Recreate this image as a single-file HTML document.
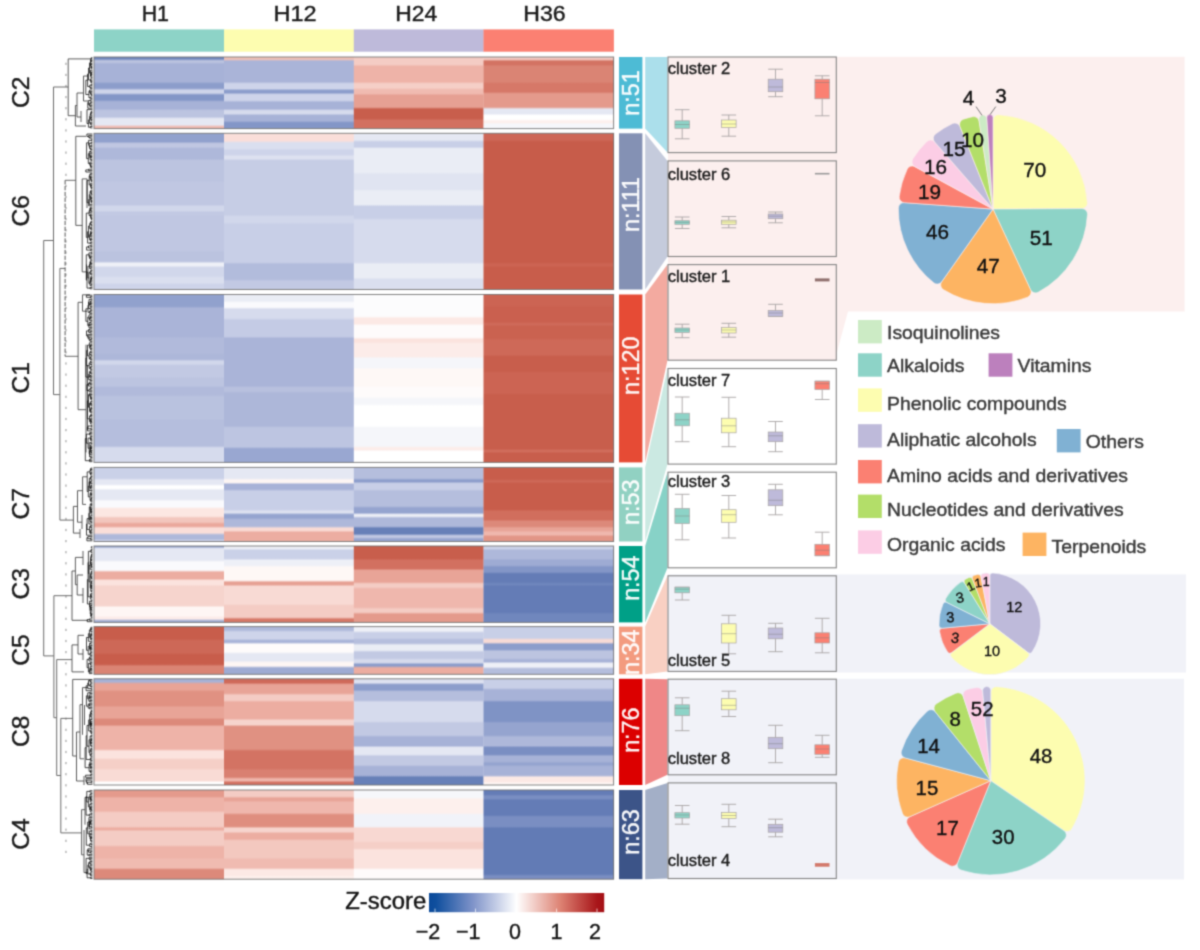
<!DOCTYPE html>
<html lang="en"><head><meta charset="utf-8"><title>Clustered heat map</title>
<style>
html,body{margin:0;padding:0;background:#fff;}
body{width:1200px;height:950px;overflow:hidden;}
svg{display:block;}
</style></head><body>
<svg width="1200" height="950" viewBox="0 0 1200 950" font-family='"Liberation Sans", Arial, Helvetica, sans-serif'>
<defs><linearGradient id="g1" x1="0" y1="0" x2="0" y2="1"><stop offset="0.0000" stop-color="#7087bd"/><stop offset="0.0240" stop-color="#7087bd"/><stop offset="0.0547" stop-color="#bcc4e0"/><stop offset="0.0689" stop-color="#bcc4e0"/><stop offset="0.0996" stop-color="#a7b2d7"/><stop offset="0.3442" stop-color="#a7b2d7"/><stop offset="0.3749" stop-color="#8c9dcb"/><stop offset="0.4341" stop-color="#8c9dcb"/><stop offset="0.4648" stop-color="#ced4ea"/><stop offset="0.5015" stop-color="#ced4ea"/><stop offset="0.5322" stop-color="#8396c7"/><stop offset="0.5970" stop-color="#8396c7"/><stop offset="0.6277" stop-color="#a7b2d7"/><stop offset="0.7206" stop-color="#a7b2d7"/><stop offset="0.7513" stop-color="#bcc4e0"/><stop offset="0.8330" stop-color="#bcc4e0"/><stop offset="0.8637" stop-color="#e5e8f3"/><stop offset="0.9453" stop-color="#e5e8f3"/><stop offset="0.9760" stop-color="#efb7ad"/><stop offset="1.0000" stop-color="#efb7ad"/></linearGradient><linearGradient id="g2" x1="0" y1="0" x2="0" y2="1"><stop offset="0.0000" stop-color="#f1c2b8"/><stop offset="0.0296" stop-color="#f1c2b8"/><stop offset="0.0603" stop-color="#aab4d8"/><stop offset="0.3442" stop-color="#aab4d8"/><stop offset="0.3749" stop-color="#ced4ea"/><stop offset="0.4397" stop-color="#ced4ea"/><stop offset="0.4704" stop-color="#8c9dcb"/><stop offset="0.4959" stop-color="#8c9dcb"/><stop offset="0.5266" stop-color="#ced4ea"/><stop offset="0.6026" stop-color="#ced4ea"/><stop offset="0.6333" stop-color="#a7b2d7"/><stop offset="0.7206" stop-color="#a7b2d7"/><stop offset="0.7513" stop-color="#d6dbed"/><stop offset="0.7880" stop-color="#d6dbed"/><stop offset="0.8187" stop-color="#a7b2d7"/><stop offset="0.8891" stop-color="#a7b2d7"/><stop offset="0.9199" stop-color="#8396c7"/><stop offset="1.0000" stop-color="#8396c7"/></linearGradient><linearGradient id="g3" x1="0" y1="0" x2="0" y2="1"><stop offset="0.0000" stop-color="#f4ccc4"/><stop offset="0.1026" stop-color="#f4ccc4"/><stop offset="0.1333" stop-color="#eeb3a8"/><stop offset="0.3442" stop-color="#eeb3a8"/><stop offset="0.3749" stop-color="#f5cfc7"/><stop offset="0.4285" stop-color="#f5cfc7"/><stop offset="0.4592" stop-color="#f0bbb1"/><stop offset="0.5071" stop-color="#f0bbb1"/><stop offset="0.5378" stop-color="#e6a093"/><stop offset="0.6981" stop-color="#e6a093"/><stop offset="0.7288" stop-color="#c85e4c"/><stop offset="0.8554" stop-color="#c85e4c"/><stop offset="0.8861" stop-color="#d27060"/><stop offset="1.0000" stop-color="#d27060"/></linearGradient><linearGradient id="g4" x1="0" y1="0" x2="0" y2="1"><stop offset="0.0000" stop-color="#f4ccc4"/><stop offset="0.0296" stop-color="#f4ccc4"/><stop offset="0.0603" stop-color="#d37363"/><stop offset="0.1026" stop-color="#d37363"/><stop offset="0.1333" stop-color="#da8474"/><stop offset="0.3442" stop-color="#da8474"/><stop offset="0.3749" stop-color="#d67868"/><stop offset="0.4846" stop-color="#d67868"/><stop offset="0.5154" stop-color="#e49a8c"/><stop offset="0.6981" stop-color="#e49a8c"/><stop offset="0.7288" stop-color="#e5e8f3"/><stop offset="0.7880" stop-color="#e5e8f3"/><stop offset="0.8187" stop-color="#ffffff"/><stop offset="0.8667" stop-color="#ffffff"/><stop offset="0.8974" stop-color="#fdf0ed"/><stop offset="0.9116" stop-color="#fdf0ed"/><stop offset="0.9423" stop-color="#f6f7fb"/><stop offset="1.0000" stop-color="#f6f7fb"/></linearGradient><clipPath id="cn0"><rect x="619" y="57.0" width="23.4" height="71.6"/></clipPath><linearGradient id="g5" x1="0" y1="0" x2="0" y2="1"><stop offset="0.0000" stop-color="#91a1cd"/><stop offset="0.0527" stop-color="#91a1cd"/><stop offset="0.0668" stop-color="#c0c7e2"/><stop offset="0.0853" stop-color="#c0c7e2"/><stop offset="0.0994" stop-color="#aeb8da"/><stop offset="0.1614" stop-color="#aeb8da"/><stop offset="0.1755" stop-color="#bcc4e0"/><stop offset="0.3027" stop-color="#bcc4e0"/><stop offset="0.3168" stop-color="#c0c7e2"/><stop offset="0.4549" stop-color="#c0c7e2"/><stop offset="0.4690" stop-color="#d1d7eb"/><stop offset="0.4930" stop-color="#d1d7eb"/><stop offset="0.5070" stop-color="#c2c9e3"/><stop offset="0.5201" stop-color="#c2c9e3"/><stop offset="0.5342" stop-color="#c0c7e2"/><stop offset="0.7484" stop-color="#c0c7e2"/><stop offset="0.7625" stop-color="#bbc3df"/><stop offset="0.8190" stop-color="#bbc3df"/><stop offset="0.8331" stop-color="#eef0f7"/><stop offset="0.8462" stop-color="#eef0f7"/><stop offset="0.8603" stop-color="#d1d7eb"/><stop offset="0.9114" stop-color="#d1d7eb"/><stop offset="0.9255" stop-color="#dadfef"/><stop offset="0.9549" stop-color="#dadfef"/><stop offset="0.9690" stop-color="#ced4ea"/><stop offset="1.0000" stop-color="#ced4ea"/></linearGradient><linearGradient id="g6" x1="0" y1="0" x2="0" y2="1"><stop offset="0.0000" stop-color="#faded9"/><stop offset="0.0473" stop-color="#faded9"/><stop offset="0.0614" stop-color="#dadfef"/><stop offset="0.0962" stop-color="#dadfef"/><stop offset="0.1103" stop-color="#ced4ea"/><stop offset="0.1343" stop-color="#ced4ea"/><stop offset="0.1483" stop-color="#dde1f0"/><stop offset="0.1614" stop-color="#dde1f0"/><stop offset="0.1755" stop-color="#c6cde5"/><stop offset="0.5201" stop-color="#c6cde5"/><stop offset="0.5342" stop-color="#d1d7eb"/><stop offset="0.5690" stop-color="#d1d7eb"/><stop offset="0.5831" stop-color="#c8cfe7"/><stop offset="0.8245" stop-color="#c8cfe7"/><stop offset="0.8386" stop-color="#b2bcdc"/><stop offset="0.9332" stop-color="#b2bcdc"/><stop offset="0.9473" stop-color="#c2c9e3"/><stop offset="1.0000" stop-color="#c2c9e3"/></linearGradient><linearGradient id="g7" x1="0" y1="0" x2="0" y2="1"><stop offset="0.0000" stop-color="#e5e8f3"/><stop offset="0.0419" stop-color="#e5e8f3"/><stop offset="0.0560" stop-color="#c8cfe7"/><stop offset="0.0853" stop-color="#c8cfe7"/><stop offset="0.0994" stop-color="#eaedf5"/><stop offset="0.2484" stop-color="#eaedf5"/><stop offset="0.2625" stop-color="#e0e4f1"/><stop offset="0.3571" stop-color="#e0e4f1"/><stop offset="0.3712" stop-color="#eaedf5"/><stop offset="0.4549" stop-color="#eaedf5"/><stop offset="0.4690" stop-color="#c8cfe7"/><stop offset="0.5419" stop-color="#c8cfe7"/><stop offset="0.5560" stop-color="#d6dbed"/><stop offset="0.8245" stop-color="#d6dbed"/><stop offset="0.8386" stop-color="#eaedf5"/><stop offset="0.9223" stop-color="#eaedf5"/><stop offset="0.9364" stop-color="#dadfef"/><stop offset="1.0000" stop-color="#dadfef"/></linearGradient><linearGradient id="g8" x1="0" y1="0" x2="0" y2="1"><stop offset="0.0000" stop-color="#cd6656"/><stop offset="0.0419" stop-color="#cd6656"/><stop offset="0.0560" stop-color="#c75c4a"/><stop offset="0.8245" stop-color="#c75c4a"/><stop offset="0.8386" stop-color="#cc6453"/><stop offset="0.8462" stop-color="#cc6453"/><stop offset="0.8603" stop-color="#c85d4b"/><stop offset="1.0000" stop-color="#c85d4b"/></linearGradient><clipPath id="cn1"><rect x="619" y="133.3" width="23.4" height="156.2"/></clipPath><linearGradient id="g9" x1="0" y1="0" x2="0" y2="1"><stop offset="0.0000" stop-color="#91a1cd"/><stop offset="0.0695" stop-color="#91a1cd"/><stop offset="0.0826" stop-color="#aab4d8"/><stop offset="0.2489" stop-color="#aab4d8"/><stop offset="0.2620" stop-color="#b1badb"/><stop offset="0.3467" stop-color="#b1badb"/><stop offset="0.3598" stop-color="#adb7d9"/><stop offset="0.3848" stop-color="#adb7d9"/><stop offset="0.3979" stop-color="#d1d7eb"/><stop offset="0.4119" stop-color="#d1d7eb"/><stop offset="0.4250" stop-color="#c2c9e3"/><stop offset="0.4880" stop-color="#c2c9e3"/><stop offset="0.5011" stop-color="#bcc4e0"/><stop offset="0.5424" stop-color="#bcc4e0"/><stop offset="0.5555" stop-color="#b1badb"/><stop offset="0.5967" stop-color="#b1badb"/><stop offset="0.6098" stop-color="#b9c2df"/><stop offset="0.7380" stop-color="#b9c2df"/><stop offset="0.7511" stop-color="#b5bedd"/><stop offset="0.9011" stop-color="#b5bedd"/><stop offset="0.9142" stop-color="#d6dbed"/><stop offset="1.0000" stop-color="#d6dbed"/></linearGradient><linearGradient id="g10" x1="0" y1="0" x2="0" y2="1"><stop offset="0.0000" stop-color="#eaedf5"/><stop offset="0.0369" stop-color="#eaedf5"/><stop offset="0.0500" stop-color="#fafafd"/><stop offset="0.0750" stop-color="#fafafd"/><stop offset="0.0881" stop-color="#d6dbed"/><stop offset="0.1402" stop-color="#d6dbed"/><stop offset="0.1533" stop-color="#c4cbe5"/><stop offset="0.2489" stop-color="#c4cbe5"/><stop offset="0.2620" stop-color="#aab4d8"/><stop offset="0.5424" stop-color="#aab4d8"/><stop offset="0.5555" stop-color="#b8c0de"/><stop offset="0.5750" stop-color="#b8c0de"/><stop offset="0.5881" stop-color="#adb7d9"/><stop offset="0.7815" stop-color="#adb7d9"/><stop offset="0.7946" stop-color="#bdc5e1"/><stop offset="0.9065" stop-color="#bdc5e1"/><stop offset="0.9196" stop-color="#99a7d1"/><stop offset="1.0000" stop-color="#99a7d1"/></linearGradient><linearGradient id="g11" x1="0" y1="0" x2="0" y2="1"><stop offset="0.0000" stop-color="#fcfcfd"/><stop offset="0.1293" stop-color="#fcfcfd"/><stop offset="0.1424" stop-color="#fce9e5"/><stop offset="0.1728" stop-color="#fce9e5"/><stop offset="0.1859" stop-color="#fefbfb"/><stop offset="0.2543" stop-color="#fefbfb"/><stop offset="0.2674" stop-color="#fbe3de"/><stop offset="0.2815" stop-color="#fbe3de"/><stop offset="0.2946" stop-color="#fcece9"/><stop offset="0.3684" stop-color="#fcece9"/><stop offset="0.3816" stop-color="#f5f6fa"/><stop offset="0.4337" stop-color="#f5f6fa"/><stop offset="0.4468" stop-color="#fef8f6"/><stop offset="0.5424" stop-color="#fef8f6"/><stop offset="0.5555" stop-color="#fefbfb"/><stop offset="0.6076" stop-color="#fefbfb"/><stop offset="0.6207" stop-color="#f5f6fa"/><stop offset="0.6511" stop-color="#f5f6fa"/><stop offset="0.6642" stop-color="#ffffff"/><stop offset="0.7815" stop-color="#ffffff"/><stop offset="0.7946" stop-color="#f5f6fa"/><stop offset="0.9011" stop-color="#f5f6fa"/><stop offset="0.9142" stop-color="#fcece9"/><stop offset="0.9228" stop-color="#fcece9"/><stop offset="0.9359" stop-color="#ffffff"/><stop offset="1.0000" stop-color="#ffffff"/></linearGradient><linearGradient id="g12" x1="0" y1="0" x2="0" y2="1"><stop offset="0.0000" stop-color="#cc6453"/><stop offset="0.0641" stop-color="#cc6453"/><stop offset="0.0772" stop-color="#ca604f"/><stop offset="0.1619" stop-color="#ca604f"/><stop offset="0.1750" stop-color="#cf6a5a"/><stop offset="0.1782" stop-color="#cf6a5a"/><stop offset="0.1913" stop-color="#ca6250"/><stop offset="0.2598" stop-color="#ca6250"/><stop offset="0.2729" stop-color="#ce6958"/><stop offset="0.3576" stop-color="#ce6958"/><stop offset="0.3707" stop-color="#c85e4c"/><stop offset="0.4554" stop-color="#c85e4c"/><stop offset="0.4685" stop-color="#cc6453"/><stop offset="0.5858" stop-color="#cc6453"/><stop offset="0.5989" stop-color="#c85e4c"/><stop offset="0.9174" stop-color="#c85e4c"/><stop offset="0.9305" stop-color="#d16e5d"/><stop offset="0.9337" stop-color="#d16e5d"/><stop offset="0.9468" stop-color="#c85e4c"/><stop offset="1.0000" stop-color="#c85e4c"/></linearGradient><clipPath id="cn2"><rect x="619" y="294.5" width="23.4" height="167.9"/></clipPath><linearGradient id="g13" x1="0" y1="0" x2="0" y2="1"><stop offset="0.0000" stop-color="#cad1e8"/><stop offset="0.1442" stop-color="#cad1e8"/><stop offset="0.1739" stop-color="#e5e8f3"/><stop offset="0.2238" stop-color="#e5e8f3"/><stop offset="0.2535" stop-color="#ffffff"/><stop offset="0.2806" stop-color="#ffffff"/><stop offset="0.3103" stop-color="#e5e8f3"/><stop offset="0.4283" stop-color="#e5e8f3"/><stop offset="0.4580" stop-color="#fafafd"/><stop offset="0.5306" stop-color="#fafafd"/><stop offset="0.5603" stop-color="#fce7e2"/><stop offset="0.6556" stop-color="#fce7e2"/><stop offset="0.6853" stop-color="#f2c6bd"/><stop offset="0.7352" stop-color="#f2c6bd"/><stop offset="0.7648" stop-color="#eaa79b"/><stop offset="0.7920" stop-color="#eaa79b"/><stop offset="0.8217" stop-color="#faded9"/><stop offset="0.8829" stop-color="#faded9"/><stop offset="0.9126" stop-color="#aeb8da"/><stop offset="0.9624" stop-color="#aeb8da"/><stop offset="0.9921" stop-color="#ced4ea"/><stop offset="1.0000" stop-color="#ced4ea"/></linearGradient><linearGradient id="g14" x1="0" y1="0" x2="0" y2="1"><stop offset="0.0000" stop-color="#e5e8f3"/><stop offset="0.1442" stop-color="#e5e8f3"/><stop offset="0.1739" stop-color="#fef6f4"/><stop offset="0.2011" stop-color="#fef6f4"/><stop offset="0.2308" stop-color="#a7b2d7"/><stop offset="0.2920" stop-color="#a7b2d7"/><stop offset="0.3217" stop-color="#c8cfe7"/><stop offset="0.5647" stop-color="#c8cfe7"/><stop offset="0.5944" stop-color="#dde1f0"/><stop offset="0.6102" stop-color="#dde1f0"/><stop offset="0.6398" stop-color="#95a4cf"/><stop offset="0.6783" stop-color="#95a4cf"/><stop offset="0.7080" stop-color="#aeb8da"/><stop offset="0.7920" stop-color="#aeb8da"/><stop offset="0.8217" stop-color="#f9dbd5"/><stop offset="0.8488" stop-color="#f9dbd5"/><stop offset="0.8785" stop-color="#ecada1"/><stop offset="1.0000" stop-color="#ecada1"/></linearGradient><linearGradient id="g15" x1="0" y1="0" x2="0" y2="1"><stop offset="0.0000" stop-color="#b5bedd"/><stop offset="0.1442" stop-color="#b5bedd"/><stop offset="0.1739" stop-color="#8c9dcb"/><stop offset="0.1897" stop-color="#8c9dcb"/><stop offset="0.2194" stop-color="#c8cfe7"/><stop offset="0.2920" stop-color="#c8cfe7"/><stop offset="0.3217" stop-color="#b5bedd"/><stop offset="0.5192" stop-color="#b5bedd"/><stop offset="0.5489" stop-color="#95a4cf"/><stop offset="0.6102" stop-color="#95a4cf"/><stop offset="0.6398" stop-color="#eef0f7"/><stop offset="0.6556" stop-color="#eef0f7"/><stop offset="0.6853" stop-color="#aeb8da"/><stop offset="0.7920" stop-color="#aeb8da"/><stop offset="0.8217" stop-color="#6780b8"/><stop offset="0.8942" stop-color="#6780b8"/><stop offset="0.9239" stop-color="#c2c9e3"/><stop offset="0.9397" stop-color="#c2c9e3"/><stop offset="0.9694" stop-color="#95a4cf"/><stop offset="1.0000" stop-color="#95a4cf"/></linearGradient><linearGradient id="g16" x1="0" y1="0" x2="0" y2="1"><stop offset="0.0000" stop-color="#c85d4b"/><stop offset="0.1556" stop-color="#c85d4b"/><stop offset="0.1853" stop-color="#ce6958"/><stop offset="0.1897" stop-color="#ce6958"/><stop offset="0.2194" stop-color="#c85d4b"/><stop offset="0.5647" stop-color="#c85d4b"/><stop offset="0.5944" stop-color="#d16e5d"/><stop offset="0.7011" stop-color="#d16e5d"/><stop offset="0.7308" stop-color="#dc897a"/><stop offset="0.7920" stop-color="#dc897a"/><stop offset="0.8217" stop-color="#e8a497"/><stop offset="0.8488" stop-color="#e8a497"/><stop offset="0.8785" stop-color="#efb7ad"/><stop offset="0.9056" stop-color="#efb7ad"/><stop offset="0.9353" stop-color="#e29586"/><stop offset="1.0000" stop-color="#e29586"/></linearGradient><clipPath id="cn3"><rect x="619" y="467.4" width="23.4" height="74.1"/></clipPath><linearGradient id="g17" x1="0" y1="0" x2="0" y2="1"><stop offset="0.0000" stop-color="#95a4cf"/><stop offset="0.0076" stop-color="#95a4cf"/><stop offset="0.0364" stop-color="#e5e8f3"/><stop offset="0.1834" stop-color="#e5e8f3"/><stop offset="0.2122" stop-color="#fafafd"/><stop offset="0.3153" stop-color="#fafafd"/><stop offset="0.3441" stop-color="#ecada1"/><stop offset="0.4252" stop-color="#ecada1"/><stop offset="0.4540" stop-color="#fbe3de"/><stop offset="0.5021" stop-color="#fbe3de"/><stop offset="0.5309" stop-color="#f6d4cd"/><stop offset="0.7768" stop-color="#f6d4cd"/><stop offset="0.8056" stop-color="#fef6f4"/><stop offset="0.9087" stop-color="#fef6f4"/><stop offset="0.9375" stop-color="#fcece9"/><stop offset="0.9526" stop-color="#fcece9"/><stop offset="0.9814" stop-color="#9eabd3"/><stop offset="1.0000" stop-color="#9eabd3"/></linearGradient><linearGradient id="g18" x1="0" y1="0" x2="0" y2="1"><stop offset="0.0000" stop-color="#eef0f7"/><stop offset="0.0296" stop-color="#eef0f7"/><stop offset="0.0584" stop-color="#cad1e8"/><stop offset="0.1614" stop-color="#cad1e8"/><stop offset="0.1902" stop-color="#eef0f7"/><stop offset="0.2493" stop-color="#eef0f7"/><stop offset="0.2781" stop-color="#fef8f6"/><stop offset="0.4471" stop-color="#fef8f6"/><stop offset="0.4759" stop-color="#e6a093"/><stop offset="0.5021" stop-color="#e6a093"/><stop offset="0.5309" stop-color="#f8dad4"/><stop offset="0.7548" stop-color="#f8dad4"/><stop offset="0.7836" stop-color="#f4ccc4"/><stop offset="0.9307" stop-color="#f4ccc4"/><stop offset="0.9595" stop-color="#d67868"/><stop offset="1.0000" stop-color="#d67868"/></linearGradient><linearGradient id="g19" x1="0" y1="0" x2="0" y2="1"><stop offset="0.0000" stop-color="#c85e4c"/><stop offset="0.1614" stop-color="#c85e4c"/><stop offset="0.1902" stop-color="#d27060"/><stop offset="0.2933" stop-color="#d27060"/><stop offset="0.3221" stop-color="#e8a497"/><stop offset="0.4691" stop-color="#e8a497"/><stop offset="0.4979" stop-color="#f4ccc4"/><stop offset="0.5351" stop-color="#f4ccc4"/><stop offset="0.5638" stop-color="#efb7ad"/><stop offset="0.7988" stop-color="#efb7ad"/><stop offset="0.8276" stop-color="#f4ccc4"/><stop offset="0.8647" stop-color="#f4ccc4"/><stop offset="0.8935" stop-color="#e49a8c"/><stop offset="1.0000" stop-color="#e49a8c"/></linearGradient><linearGradient id="g20" x1="0" y1="0" x2="0" y2="1"><stop offset="0.0000" stop-color="#ced4ea"/><stop offset="0.0296" stop-color="#ced4ea"/><stop offset="0.0584" stop-color="#aeb8da"/><stop offset="0.1614" stop-color="#aeb8da"/><stop offset="0.1902" stop-color="#9eabd3"/><stop offset="0.2493" stop-color="#9eabd3"/><stop offset="0.2781" stop-color="#8396c7"/><stop offset="0.3373" stop-color="#8396c7"/><stop offset="0.3660" stop-color="#647cb6"/><stop offset="0.4691" stop-color="#647cb6"/><stop offset="0.4979" stop-color="#7087bd"/><stop offset="0.5021" stop-color="#7087bd"/><stop offset="0.5309" stop-color="#647cb6"/><stop offset="0.8647" stop-color="#647cb6"/><stop offset="0.8935" stop-color="#7087bd"/><stop offset="1.0000" stop-color="#7087bd"/></linearGradient><clipPath id="cn4"><rect x="619" y="546.0" width="23.4" height="76.4"/></clipPath><linearGradient id="g21" x1="0" y1="0" x2="0" y2="1"><stop offset="0.0000" stop-color="#c85d4b"/><stop offset="0.2527" stop-color="#c85d4b"/><stop offset="0.2988" stop-color="#cd6857"/><stop offset="0.5468" stop-color="#cd6857"/><stop offset="0.5929" stop-color="#c85d4b"/><stop offset="0.7858" stop-color="#c85d4b"/><stop offset="0.8319" stop-color="#da8474"/><stop offset="1.0000" stop-color="#da8474"/></linearGradient><linearGradient id="g22" x1="0" y1="0" x2="0" y2="1"><stop offset="0.0000" stop-color="#aeb8da"/><stop offset="0.0689" stop-color="#aeb8da"/><stop offset="0.1150" stop-color="#ced4ea"/><stop offset="0.2527" stop-color="#ced4ea"/><stop offset="0.2988" stop-color="#a7b2d7"/><stop offset="0.3262" stop-color="#a7b2d7"/><stop offset="0.3723" stop-color="#fefbfb"/><stop offset="0.5284" stop-color="#fefbfb"/><stop offset="0.5745" stop-color="#e5e8f3"/><stop offset="0.7122" stop-color="#e5e8f3"/><stop offset="0.7584" stop-color="#fef6f4"/><stop offset="0.8225" stop-color="#fef6f4"/><stop offset="0.8686" stop-color="#9eabd3"/><stop offset="1.0000" stop-color="#9eabd3"/></linearGradient><linearGradient id="g23" x1="0" y1="0" x2="0" y2="1"><stop offset="0.0000" stop-color="#eef0f7"/><stop offset="0.0872" stop-color="#eef0f7"/><stop offset="0.1334" stop-color="#c8cfe7"/><stop offset="0.2343" stop-color="#c8cfe7"/><stop offset="0.2804" stop-color="#b5bedd"/><stop offset="0.3446" stop-color="#b5bedd"/><stop offset="0.3907" stop-color="#eaedf5"/><stop offset="0.4916" stop-color="#eaedf5"/><stop offset="0.5378" stop-color="#c2c9e3"/><stop offset="0.6571" stop-color="#c2c9e3"/><stop offset="0.7032" stop-color="#d6dbed"/><stop offset="0.7490" stop-color="#d6dbed"/><stop offset="0.7951" stop-color="#8c9dcb"/><stop offset="0.8225" stop-color="#8c9dcb"/><stop offset="0.8686" stop-color="#ecada1"/><stop offset="1.0000" stop-color="#ecada1"/></linearGradient><linearGradient id="g24" x1="0" y1="0" x2="0" y2="1"><stop offset="0.0000" stop-color="#c8cfe7"/><stop offset="0.2343" stop-color="#c8cfe7"/><stop offset="0.2804" stop-color="#f9dbd5"/><stop offset="0.3262" stop-color="#f9dbd5"/><stop offset="0.3723" stop-color="#8c9dcb"/><stop offset="0.4733" stop-color="#8c9dcb"/><stop offset="0.5194" stop-color="#bcc4e0"/><stop offset="0.6571" stop-color="#bcc4e0"/><stop offset="0.7032" stop-color="#a7b2d7"/><stop offset="0.7306" stop-color="#a7b2d7"/><stop offset="0.7767" stop-color="#eef0f7"/><stop offset="0.8409" stop-color="#eef0f7"/><stop offset="0.8870" stop-color="#b5bedd"/><stop offset="1.0000" stop-color="#b5bedd"/></linearGradient><clipPath id="cn5"><rect x="619" y="626.6" width="23.4" height="47.7"/></clipPath><linearGradient id="g25" x1="0" y1="0" x2="0" y2="1"><stop offset="0.0000" stop-color="#a7b2d7"/><stop offset="0.0275" stop-color="#a7b2d7"/><stop offset="0.0482" stop-color="#e8a497"/><stop offset="0.1015" stop-color="#e8a497"/><stop offset="0.1222" stop-color="#e09182"/><stop offset="0.2495" stop-color="#e09182"/><stop offset="0.2702" stop-color="#e8a497"/><stop offset="0.3646" stop-color="#e8a497"/><stop offset="0.3854" stop-color="#dc897a"/><stop offset="0.4304" stop-color="#dc897a"/><stop offset="0.4511" stop-color="#eeb3a8"/><stop offset="0.6607" stop-color="#eeb3a8"/><stop offset="0.6814" stop-color="#fbe3de"/><stop offset="0.7429" stop-color="#fbe3de"/><stop offset="0.7636" stop-color="#f5cfc7"/><stop offset="0.8416" stop-color="#f5cfc7"/><stop offset="0.8623" stop-color="#f9dbd5"/><stop offset="0.9567" stop-color="#f9dbd5"/><stop offset="0.9775" stop-color="#ffffff"/><stop offset="1.0000" stop-color="#ffffff"/></linearGradient><linearGradient id="g26" x1="0" y1="0" x2="0" y2="1"><stop offset="0.0000" stop-color="#cf6a5a"/><stop offset="0.0357" stop-color="#cf6a5a"/><stop offset="0.0564" stop-color="#e8a497"/><stop offset="0.1344" stop-color="#e8a497"/><stop offset="0.1551" stop-color="#f4ccc4"/><stop offset="0.2002" stop-color="#f4ccc4"/><stop offset="0.2209" stop-color="#ecada1"/><stop offset="0.3729" stop-color="#ecada1"/><stop offset="0.3936" stop-color="#f6d4cd"/><stop offset="0.4304" stop-color="#f6d4cd"/><stop offset="0.4511" stop-color="#e09182"/><stop offset="0.6607" stop-color="#e09182"/><stop offset="0.6814" stop-color="#d37363"/><stop offset="0.8416" stop-color="#d37363"/><stop offset="0.8623" stop-color="#d98071"/><stop offset="0.9239" stop-color="#d98071"/><stop offset="0.9446" stop-color="#efb7ad"/><stop offset="0.9567" stop-color="#efb7ad"/><stop offset="0.9775" stop-color="#d27060"/><stop offset="1.0000" stop-color="#d27060"/></linearGradient><linearGradient id="g27" x1="0" y1="0" x2="0" y2="1"><stop offset="0.0000" stop-color="#dde1f0"/><stop offset="0.0357" stop-color="#dde1f0"/><stop offset="0.0564" stop-color="#8c9dcb"/><stop offset="0.1015" stop-color="#8c9dcb"/><stop offset="0.1222" stop-color="#b5bedd"/><stop offset="0.2002" stop-color="#b5bedd"/><stop offset="0.2209" stop-color="#d6dbed"/><stop offset="0.3975" stop-color="#d6dbed"/><stop offset="0.4183" stop-color="#c2c9e3"/><stop offset="0.5291" stop-color="#c2c9e3"/><stop offset="0.5498" stop-color="#a7b2d7"/><stop offset="0.6278" stop-color="#a7b2d7"/><stop offset="0.6485" stop-color="#e5e8f3"/><stop offset="0.7100" stop-color="#e5e8f3"/><stop offset="0.7308" stop-color="#c2c9e3"/><stop offset="0.8087" stop-color="#c2c9e3"/><stop offset="0.8294" stop-color="#a7b2d7"/><stop offset="0.9074" stop-color="#a7b2d7"/><stop offset="0.9281" stop-color="#6780b8"/><stop offset="1.0000" stop-color="#6780b8"/></linearGradient><linearGradient id="g28" x1="0" y1="0" x2="0" y2="1"><stop offset="0.0000" stop-color="#c8cfe7"/><stop offset="0.0850" stop-color="#c8cfe7"/><stop offset="0.1058" stop-color="#a7b2d7"/><stop offset="0.2002" stop-color="#a7b2d7"/><stop offset="0.2209" stop-color="#7f93c5"/><stop offset="0.3975" stop-color="#7f93c5"/><stop offset="0.4183" stop-color="#95a4cf"/><stop offset="0.5291" stop-color="#95a4cf"/><stop offset="0.5498" stop-color="#aeb8da"/><stop offset="0.6278" stop-color="#aeb8da"/><stop offset="0.6485" stop-color="#7a8ec2"/><stop offset="0.7100" stop-color="#7a8ec2"/><stop offset="0.7308" stop-color="#a7b2d7"/><stop offset="0.7758" stop-color="#a7b2d7"/><stop offset="0.7965" stop-color="#95a4cf"/><stop offset="0.8087" stop-color="#95a4cf"/><stop offset="0.8294" stop-color="#a7b2d7"/><stop offset="0.9074" stop-color="#a7b2d7"/><stop offset="0.9281" stop-color="#fce9e5"/><stop offset="0.9650" stop-color="#fce9e5"/><stop offset="0.9857" stop-color="#fef6f4"/><stop offset="1.0000" stop-color="#fef6f4"/></linearGradient><clipPath id="cn6"><rect x="619" y="678.8" width="23.4" height="106.2"/></clipPath><linearGradient id="g29" x1="0" y1="0" x2="0" y2="1"><stop offset="0.0000" stop-color="#e49a8c"/><stop offset="0.0691" stop-color="#e49a8c"/><stop offset="0.0937" stop-color="#eeb3a8"/><stop offset="0.2319" stop-color="#eeb3a8"/><stop offset="0.2565" stop-color="#f4ccc4"/><stop offset="0.4063" stop-color="#f4ccc4"/><stop offset="0.4309" stop-color="#ecada1"/><stop offset="0.4412" stop-color="#ecada1"/><stop offset="0.4658" stop-color="#f4ccc4"/><stop offset="0.6156" stop-color="#f4ccc4"/><stop offset="0.6402" stop-color="#eeb3a8"/><stop offset="0.7551" stop-color="#eeb3a8"/><stop offset="0.7798" stop-color="#f0bbb1"/><stop offset="0.8714" stop-color="#f0bbb1"/><stop offset="0.8961" stop-color="#dc897a"/><stop offset="1.0000" stop-color="#dc897a"/></linearGradient><linearGradient id="g30" x1="0" y1="0" x2="0" y2="1"><stop offset="0.0000" stop-color="#f4ccc4"/><stop offset="0.0691" stop-color="#f4ccc4"/><stop offset="0.0937" stop-color="#e8a497"/><stop offset="0.1156" stop-color="#e8a497"/><stop offset="0.1402" stop-color="#efb7ad"/><stop offset="0.2551" stop-color="#efb7ad"/><stop offset="0.2798" stop-color="#df8e7f"/><stop offset="0.4063" stop-color="#df8e7f"/><stop offset="0.4309" stop-color="#f6d4cd"/><stop offset="0.4644" stop-color="#f6d4cd"/><stop offset="0.4891" stop-color="#ecada1"/><stop offset="0.5458" stop-color="#ecada1"/><stop offset="0.5705" stop-color="#f3c8bf"/><stop offset="0.7551" stop-color="#f3c8bf"/><stop offset="0.7798" stop-color="#f0bbb1"/><stop offset="0.8714" stop-color="#f0bbb1"/><stop offset="0.8961" stop-color="#fce9e5"/><stop offset="0.9528" stop-color="#fce9e5"/><stop offset="0.9774" stop-color="#fdf0ed"/><stop offset="1.0000" stop-color="#fdf0ed"/></linearGradient><linearGradient id="g31" x1="0" y1="0" x2="0" y2="1"><stop offset="0.0000" stop-color="#f6f7fb"/><stop offset="0.0807" stop-color="#f6f7fb"/><stop offset="0.1054" stop-color="#fdf0ed"/><stop offset="0.2551" stop-color="#fdf0ed"/><stop offset="0.2798" stop-color="#f1f3f9"/><stop offset="0.4063" stop-color="#f1f3f9"/><stop offset="0.4309" stop-color="#f8d8d2"/><stop offset="0.5691" stop-color="#f8d8d2"/><stop offset="0.5937" stop-color="#f5cfc7"/><stop offset="0.6505" stop-color="#f5cfc7"/><stop offset="0.6751" stop-color="#fbe3de"/><stop offset="0.8714" stop-color="#fbe3de"/><stop offset="0.8961" stop-color="#fefbfb"/><stop offset="1.0000" stop-color="#fefbfb"/></linearGradient><linearGradient id="g32" x1="0" y1="0" x2="0" y2="1"><stop offset="0.0000" stop-color="#647cb6"/><stop offset="0.0458" stop-color="#647cb6"/><stop offset="0.0705" stop-color="#7a8ec2"/><stop offset="0.0923" stop-color="#7a8ec2"/><stop offset="0.1170" stop-color="#647cb6"/><stop offset="0.2784" stop-color="#647cb6"/><stop offset="0.3030" stop-color="#7a8ec2"/><stop offset="0.4063" stop-color="#7a8ec2"/><stop offset="0.4309" stop-color="#627bb5"/><stop offset="0.9412" stop-color="#627bb5"/><stop offset="0.9658" stop-color="#7a8ec2"/><stop offset="1.0000" stop-color="#7a8ec2"/></linearGradient><clipPath id="cn7"><rect x="619" y="790.0" width="23.4" height="89.2"/></clipPath><linearGradient id="cb" x1="0" y1="0" x2="1" y2="0"><stop offset="0" stop-color="#0b4a9a"/><stop offset="0.04" stop-color="#0f4f9e"/><stop offset="0.25" stop-color="#7f93c9"/><stop offset="0.5" stop-color="#ffffff"/><stop offset="0.75" stop-color="#dd8273"/><stop offset="0.96" stop-color="#a81519"/><stop offset="1" stop-color="#a50f15"/></linearGradient><filter id="soft" filterUnits="userSpaceOnUse" x="0" y="0" width="1200" height="950" color-interpolation-filters="sRGB"><feConvolveMatrix order="5" kernelMatrix="0.00003 0.00101 0.00331 0.00101 0.00003 0.00101 0.03529 0.11525 0.03529 0.00101 0.00331 0.11525 0.37636 0.11525 0.00331 0.00101 0.03529 0.11525 0.03529 0.00101 0.00003 0.00101 0.00331 0.00101 0.00003" edgeMode="duplicate" preserveAlpha="true"/></filter></defs>
<g filter="url(#soft)">
<rect x="0" y="0" width="1200" height="950" fill="#ffffff"/>
<rect x="668" y="56.8" width="516.6" height="303.7" fill="#fcefee"/>
<polygon points="848,311.5 1200,311.5 1200,380 837,380 837,352" fill="#ffffff"/>
<rect x="668" y="574.4" width="518" height="98.1" fill="#f1f2f8"/>
<rect x="668" y="678.8" width="516" height="200.6" fill="#f1f2f8"/>
<rect x="94.0" y="29.4" width="130.3" height="22.3" fill="#8DD3C7"/>
<text transform="translate(155.3,21.0)" font-size="21.4" text-anchor="middle" fill="#1a1a1a" stroke="#1a1a1a" stroke-width="0.4">H1</text>
<rect x="224.0" y="29.4" width="130.1" height="22.3" fill="#FDFDB0"/>
<text transform="translate(295.0,21.0) scale(1.1,1)" font-size="21.4" text-anchor="middle" fill="#1a1a1a" stroke="#1a1a1a" stroke-width="0.4">H12</text>
<rect x="353.8" y="29.4" width="130.0" height="22.3" fill="#BEBADA"/>
<text transform="translate(416.2,21.0) scale(1.07,1)" font-size="21.4" text-anchor="middle" fill="#1a1a1a" stroke="#1a1a1a" stroke-width="0.4">H24</text>
<rect x="483.5" y="29.4" width="130.4" height="22.3" fill="#FB8072"/>
<text transform="translate(544.4,21.0) scale(1.08,1)" font-size="21.4" text-anchor="middle" fill="#1a1a1a" stroke="#1a1a1a" stroke-width="0.4">H36</text>
<rect x="94.0" y="57.0" width="130.3" height="71.6" fill="url(#g1)"/>
<rect x="224.0" y="57.0" width="130.1" height="71.6" fill="url(#g2)"/>
<rect x="353.8" y="57.0" width="130.0" height="71.6" fill="url(#g3)"/>
<rect x="483.5" y="57.0" width="130.4" height="71.6" fill="url(#g4)"/>
<rect x="94.0" y="57.0" width="519.6" height="71.6" fill="none" stroke="#6e6e6e" stroke-width="1" stroke-opacity="0.85"/>
<text transform="translate(29.4,92.3) rotate(-90) scale(1.05,1)" font-size="23.4" text-anchor="middle" fill="#1a1a1a" stroke="#1a1a1a" stroke-width="0.4">C2</text>
<rect x="619" y="57.0" width="23.4" height="71.6" fill="#4DBBD5"/>
<g clip-path="url(#cn0)"><text transform="translate(638.9,93.0) rotate(-90)" font-size="23.3" text-anchor="middle" fill="#ffffff" stroke="#ffffff" stroke-width="0.4" fill-opacity="0.95">n:51</text></g>
<rect x="94.0" y="133.3" width="130.3" height="156.2" fill="url(#g5)"/>
<rect x="224.0" y="133.3" width="130.1" height="156.2" fill="url(#g6)"/>
<rect x="353.8" y="133.3" width="130.0" height="156.2" fill="url(#g7)"/>
<rect x="483.5" y="133.3" width="130.4" height="156.2" fill="url(#g8)"/>
<rect x="94.0" y="133.3" width="519.6" height="156.2" fill="none" stroke="#6e6e6e" stroke-width="1" stroke-opacity="0.85"/>
<text transform="translate(29.4,210.9) rotate(-90) scale(1.05,1)" font-size="23.4" text-anchor="middle" fill="#1a1a1a" stroke="#1a1a1a" stroke-width="0.4">C6</text>
<rect x="619" y="133.3" width="23.4" height="156.2" fill="#8491B4"/>
<g clip-path="url(#cn1)"><text transform="translate(638.9,204.5) rotate(-90)" font-size="23.3" text-anchor="middle" fill="#ffffff" stroke="#ffffff" stroke-width="0.4" fill-opacity="0.95">n:111</text></g>
<rect x="94.0" y="294.5" width="130.3" height="167.9" fill="url(#g9)"/>
<rect x="224.0" y="294.5" width="130.1" height="167.9" fill="url(#g10)"/>
<rect x="353.8" y="294.5" width="130.0" height="167.9" fill="url(#g11)"/>
<rect x="483.5" y="294.5" width="130.4" height="167.9" fill="url(#g12)"/>
<rect x="94.0" y="294.5" width="519.6" height="167.9" fill="none" stroke="#6e6e6e" stroke-width="1" stroke-opacity="0.85"/>
<text transform="translate(29.4,377.9) rotate(-90) scale(1.05,1)" font-size="23.4" text-anchor="middle" fill="#1a1a1a" stroke="#1a1a1a" stroke-width="0.4">C1</text>
<rect x="619" y="294.5" width="23.4" height="167.9" fill="#E64B35"/>
<g clip-path="url(#cn2)"><text transform="translate(638.9,365.8) rotate(-90)" font-size="23.3" text-anchor="middle" fill="#ffffff" stroke="#ffffff" stroke-width="0.4" fill-opacity="0.95">n:120</text></g>
<rect x="94.0" y="467.4" width="130.3" height="74.1" fill="url(#g13)"/>
<rect x="224.0" y="467.4" width="130.1" height="74.1" fill="url(#g14)"/>
<rect x="353.8" y="467.4" width="130.0" height="74.1" fill="url(#g15)"/>
<rect x="483.5" y="467.4" width="130.4" height="74.1" fill="url(#g16)"/>
<rect x="94.0" y="467.4" width="519.6" height="74.1" fill="none" stroke="#6e6e6e" stroke-width="1" stroke-opacity="0.85"/>
<text transform="translate(29.4,503.9) rotate(-90) scale(1.05,1)" font-size="23.4" text-anchor="middle" fill="#1a1a1a" stroke="#1a1a1a" stroke-width="0.4">C7</text>
<rect x="619" y="467.4" width="23.4" height="74.1" fill="#91D1C2"/>
<g clip-path="url(#cn3)"><text transform="translate(638.9,502.3) rotate(-90)" font-size="23.3" text-anchor="middle" fill="#ffffff" stroke="#ffffff" stroke-width="0.4" fill-opacity="0.95">n:53</text></g>
<rect x="94.0" y="546.0" width="130.3" height="76.4" fill="url(#g17)"/>
<rect x="224.0" y="546.0" width="130.1" height="76.4" fill="url(#g18)"/>
<rect x="353.8" y="546.0" width="130.0" height="76.4" fill="url(#g19)"/>
<rect x="483.5" y="546.0" width="130.4" height="76.4" fill="url(#g20)"/>
<rect x="94.0" y="546.0" width="519.6" height="76.4" fill="none" stroke="#6e6e6e" stroke-width="1" stroke-opacity="0.85"/>
<text transform="translate(29.4,583.7) rotate(-90) scale(1.05,1)" font-size="23.4" text-anchor="middle" fill="#1a1a1a" stroke="#1a1a1a" stroke-width="0.4">C3</text>
<rect x="619" y="546.0" width="23.4" height="76.4" fill="#00A087"/>
<g clip-path="url(#cn4)"><text transform="translate(638.9,578.2) rotate(-90)" font-size="23.3" text-anchor="middle" fill="#ffffff" stroke="#ffffff" stroke-width="0.4" fill-opacity="0.95">n:54</text></g>
<rect x="94.0" y="626.6" width="130.3" height="47.7" fill="url(#g21)"/>
<rect x="224.0" y="626.6" width="130.1" height="47.7" fill="url(#g22)"/>
<rect x="353.8" y="626.6" width="130.0" height="47.7" fill="url(#g23)"/>
<rect x="483.5" y="626.6" width="130.4" height="47.7" fill="url(#g24)"/>
<rect x="94.0" y="626.6" width="519.6" height="47.7" fill="none" stroke="#6e6e6e" stroke-width="1" stroke-opacity="0.85"/>
<text transform="translate(29.4,650.0) rotate(-90) scale(1.05,1)" font-size="23.4" text-anchor="middle" fill="#1a1a1a" stroke="#1a1a1a" stroke-width="0.4">C5</text>
<rect x="619" y="626.6" width="23.4" height="47.7" fill="#F39B7F"/>
<g clip-path="url(#cn5)"><text transform="translate(638.9,652.3) rotate(-90)" font-size="23.3" text-anchor="middle" fill="#ffffff" stroke="#ffffff" stroke-width="0.4" fill-opacity="0.95">n:34</text></g>
<rect x="94.0" y="678.8" width="130.3" height="106.2" fill="url(#g25)"/>
<rect x="224.0" y="678.8" width="130.1" height="106.2" fill="url(#g26)"/>
<rect x="353.8" y="678.8" width="130.0" height="106.2" fill="url(#g27)"/>
<rect x="483.5" y="678.8" width="130.4" height="106.2" fill="url(#g28)"/>
<rect x="94.0" y="678.8" width="519.6" height="106.2" fill="none" stroke="#6e6e6e" stroke-width="1" stroke-opacity="0.85"/>
<text transform="translate(29.4,731.4) rotate(-90) scale(1.05,1)" font-size="23.4" text-anchor="middle" fill="#1a1a1a" stroke="#1a1a1a" stroke-width="0.4">C8</text>
<rect x="619" y="678.8" width="23.4" height="106.2" fill="#DC0000"/>
<g clip-path="url(#cn6)"><text transform="translate(638.9,730.2) rotate(-90)" font-size="23.3" text-anchor="middle" fill="#ffffff" stroke="#ffffff" stroke-width="0.4" fill-opacity="0.95">n:76</text></g>
<rect x="94.0" y="790.0" width="130.3" height="89.2" fill="url(#g29)"/>
<rect x="224.0" y="790.0" width="130.1" height="89.2" fill="url(#g30)"/>
<rect x="353.8" y="790.0" width="130.0" height="89.2" fill="url(#g31)"/>
<rect x="483.5" y="790.0" width="130.4" height="89.2" fill="url(#g32)"/>
<rect x="94.0" y="790.0" width="519.6" height="89.2" fill="none" stroke="#6e6e6e" stroke-width="1" stroke-opacity="0.85"/>
<text transform="translate(29.4,834.1) rotate(-90) scale(1.05,1)" font-size="23.4" text-anchor="middle" fill="#1a1a1a" stroke="#1a1a1a" stroke-width="0.4">C4</text>
<rect x="619" y="790.0" width="23.4" height="89.2" fill="#3C5488"/>
<g clip-path="url(#cn7)"><text transform="translate(638.9,832.0) rotate(-90)" font-size="23.3" text-anchor="middle" fill="#ffffff" stroke="#ffffff" stroke-width="0.4" fill-opacity="0.95">n:63</text></g>
<polygon points="645.2,57.0 667.5,57.0 667.5,152.6 645.2,128.6" fill="#abdfeb"/>
<rect x="668.0" y="57.0" width="168.3" height="95.6" fill="none" stroke="#858585" stroke-width="1.1"/>
<path d="M682.2,109.7V120.8M682.2,128.3V138.8M674.9,109.7H689.5M674.9,138.8H689.5" stroke="#a8a4a4" stroke-width="0.9" fill="none"/>
<rect x="674.9" y="120.8" width="14.6" height="7.5" fill="#8DD3C7" stroke="#a8a4a4" stroke-width="0.7"/>
<path d="M674.9,124.5H689.5" stroke="#7c7c7c" stroke-width="0.9" stroke-opacity="0.5"/>
<path d="M728.8,115V120M728.8,127.5V136.2M721.5,115H736.1M721.5,136.2H736.1" stroke="#a8a4a4" stroke-width="0.9" fill="none"/>
<rect x="721.5" y="120" width="14.6" height="7.5" fill="#FDFDB0" stroke="#a8a4a4" stroke-width="0.7"/>
<path d="M721.5,124H736.1" stroke="#7c7c7c" stroke-width="0.9" stroke-opacity="0.5"/>
<path d="M775.5,69.2V79.2M775.5,91.7V96.7M768.2,69.2H782.8M768.2,96.7H782.8" stroke="#a8a4a4" stroke-width="0.9" fill="none"/>
<rect x="768.2" y="79.2" width="14.6" height="12.5" fill="#BEBADA" stroke="#a8a4a4" stroke-width="0.7"/>
<path d="M768.2,87H782.8" stroke="#7c7c7c" stroke-width="0.9" stroke-opacity="0.5"/>
<path d="M822.2,75.8V79.2M822.2,98.8V115.8M814.9,75.8H829.5M814.9,115.8H829.5" stroke="#a8a4a4" stroke-width="0.9" fill="none"/>
<rect x="814.9" y="79.2" width="14.6" height="19.6" fill="#FB8072" stroke="#a8a4a4" stroke-width="0.7"/>
<path d="M814.9,82.5H829.5" stroke="#7c7c7c" stroke-width="0.9" stroke-opacity="0.5"/>
<text transform="translate(667.7,74.35) scale(1.055,1)" font-size="15.7" text-anchor="start" fill="#1c1c1c" stroke="#1c1c1c" stroke-width="0.4">cluster 2</text>
<polygon points="645.2,133.3 667.5,160.9 667.5,256.5 645.2,289.5" fill="#c5cbdc"/>
<rect x="668.0" y="160.9" width="168.3" height="95.6" fill="none" stroke="#858585" stroke-width="1.1"/>
<path d="M682.2,217V220.7M682.2,224.3V228.5M674.9,217H689.5M674.9,228.5H689.5" stroke="#a8a4a4" stroke-width="0.9" fill="none"/>
<rect x="674.9" y="220.7" width="14.6" height="3.6" fill="#8DD3C7" stroke="#a8a4a4" stroke-width="0.7"/>
<path d="M674.9,222.3H689.5" stroke="#7c7c7c" stroke-width="0.9" stroke-opacity="0.5"/>
<path d="M728.8,216.5V220.2M728.8,224.3V227.8M721.5,216.5H736.1M721.5,227.8H736.1" stroke="#a8a4a4" stroke-width="0.9" fill="none"/>
<rect x="721.5" y="220.2" width="14.6" height="4.1" fill="#FDFDB0" stroke="#a8a4a4" stroke-width="0.7"/>
<path d="M721.5,222H736.1" stroke="#7c7c7c" stroke-width="0.9" stroke-opacity="0.5"/>
<path d="M775.5,212V214M775.5,218.7V222.8M768.2,212H782.8M768.2,222.8H782.8" stroke="#a8a4a4" stroke-width="0.9" fill="none"/>
<rect x="768.2" y="214" width="14.6" height="4.7" fill="#BEBADA" stroke="#a8a4a4" stroke-width="0.7"/>
<path d="M768.2,216.2H782.8" stroke="#7c7c7c" stroke-width="0.9" stroke-opacity="0.5"/>
<rect x="814.9" y="172.9" width="14.6" height="1.6" fill="#9a9a9a"/>
<text transform="translate(667.7,180.35) scale(1.055,1)" font-size="15.7" text-anchor="start" fill="#1c1c1c" stroke="#1c1c1c" stroke-width="0.4">cluster 6</text>
<polygon points="645.2,294.5 667.5,264.6 667.5,360.20000000000005 645.2,462.4" fill="#f3aaa0"/>
<rect x="668.0" y="264.6" width="168.3" height="95.6" fill="none" stroke="#858585" stroke-width="1.1"/>
<path d="M682.2,324.2V328M682.2,332.5V337.7M674.9,324.2H689.5M674.9,337.7H689.5" stroke="#a8a4a4" stroke-width="0.9" fill="none"/>
<rect x="674.9" y="328" width="14.6" height="4.5" fill="#8DD3C7" stroke="#a8a4a4" stroke-width="0.7"/>
<path d="M674.9,330H689.5" stroke="#7c7c7c" stroke-width="0.9" stroke-opacity="0.5"/>
<path d="M728.8,323.3V327.5M728.8,333V337.2M721.5,323.3H736.1M721.5,337.2H736.1" stroke="#a8a4a4" stroke-width="0.9" fill="none"/>
<rect x="721.5" y="327.5" width="14.6" height="5.5" fill="#FDFDB0" stroke="#a8a4a4" stroke-width="0.7"/>
<path d="M721.5,330H736.1" stroke="#7c7c7c" stroke-width="0.9" stroke-opacity="0.5"/>
<path d="M775.5,304.3V310.5M775.5,316.3V316.3M768.2,304.3H782.8M768.2,316.3H782.8" stroke="#a8a4a4" stroke-width="0.9" fill="none"/>
<rect x="768.2" y="310.5" width="14.6" height="5.8" fill="#BEBADA" stroke="#a8a4a4" stroke-width="0.7"/>
<path d="M768.2,313H782.8" stroke="#7c7c7c" stroke-width="0.9" stroke-opacity="0.5"/>
<rect x="814.9" y="278.4" width="14.6" height="3.0" fill="#8f6f6d"/>
<text transform="translate(667.7,281.85) scale(1.055,1)" font-size="15.7" text-anchor="start" fill="#1c1c1c" stroke="#1c1c1c" stroke-width="0.4">cluster 1</text>
<polygon points="645.2,467.4 667.5,368.5 667.5,464.1 645.2,541.5" fill="#cbe9e2"/>
<rect x="668.0" y="368.5" width="168.3" height="95.6" fill="#ffffff" stroke="#858585" stroke-width="1.1"/>
<path d="M682.2,397V413.2M682.2,425.8V441.7M674.9,397H689.5M674.9,441.7H689.5" stroke="#a8a4a4" stroke-width="0.9" fill="none"/>
<rect x="674.9" y="413.2" width="14.6" height="12.6" fill="#8DD3C7" stroke="#a8a4a4" stroke-width="0.7"/>
<path d="M674.9,419.8H689.5" stroke="#7c7c7c" stroke-width="0.9" stroke-opacity="0.5"/>
<path d="M728.8,397.3V418.2M728.8,432.8V446.7M721.5,397.3H736.1M721.5,446.7H736.1" stroke="#a8a4a4" stroke-width="0.9" fill="none"/>
<rect x="721.5" y="418.2" width="14.6" height="14.6" fill="#FDFDB0" stroke="#a8a4a4" stroke-width="0.7"/>
<path d="M721.5,425.8H736.1" stroke="#7c7c7c" stroke-width="0.9" stroke-opacity="0.5"/>
<path d="M775.5,421.5V432M775.5,441.7V451.7M768.2,421.5H782.8M768.2,451.7H782.8" stroke="#a8a4a4" stroke-width="0.9" fill="none"/>
<rect x="768.2" y="432" width="14.6" height="9.7" fill="#BEBADA" stroke="#a8a4a4" stroke-width="0.7"/>
<path d="M768.2,435.8H782.8" stroke="#7c7c7c" stroke-width="0.9" stroke-opacity="0.5"/>
<path d="M822.2,381.2V381.2M822.2,389.5V399.5M814.9,381.2H829.5M814.9,399.5H829.5" stroke="#a8a4a4" stroke-width="0.9" fill="none"/>
<rect x="814.9" y="381.2" width="14.6" height="8.3" fill="#FB8072" stroke="#a8a4a4" stroke-width="0.7"/>
<path d="M814.9,383.7H829.5" stroke="#7c7c7c" stroke-width="0.9" stroke-opacity="0.5"/>
<text transform="translate(667.7,386.35) scale(1.055,1)" font-size="15.7" text-anchor="start" fill="#1c1c1c" stroke="#1c1c1c" stroke-width="0.4">cluster 7</text>
<polygon points="645.2,546.0 667.5,472.2 667.5,567.8 645.2,622.4" fill="#87d2c7"/>
<rect x="668.0" y="472.2" width="168.3" height="95.6" fill="#ffffff" stroke="#858585" stroke-width="1.1"/>
<path d="M682.2,494.3V508.5M682.2,523.5V539.8M674.9,494.3H689.5M674.9,539.8H689.5" stroke="#a8a4a4" stroke-width="0.9" fill="none"/>
<rect x="674.9" y="508.5" width="14.6" height="15.0" fill="#8DD3C7" stroke="#a8a4a4" stroke-width="0.7"/>
<path d="M674.9,516H689.5" stroke="#7c7c7c" stroke-width="0.9" stroke-opacity="0.5"/>
<path d="M728.8,495.5V509.7M728.8,522.3V538M721.5,495.5H736.1M721.5,538H736.1" stroke="#a8a4a4" stroke-width="0.9" fill="none"/>
<rect x="721.5" y="509.7" width="14.6" height="12.6" fill="#FDFDB0" stroke="#a8a4a4" stroke-width="0.7"/>
<path d="M721.5,514.7H736.1" stroke="#7c7c7c" stroke-width="0.9" stroke-opacity="0.5"/>
<path d="M775.5,484.3V489.8M775.5,505.7V514.8M768.2,484.3H782.8M768.2,514.8H782.8" stroke="#a8a4a4" stroke-width="0.9" fill="none"/>
<rect x="768.2" y="489.8" width="14.6" height="15.9" fill="#BEBADA" stroke="#a8a4a4" stroke-width="0.7"/>
<path d="M768.2,500.2H782.8" stroke="#7c7c7c" stroke-width="0.9" stroke-opacity="0.5"/>
<path d="M822.2,532.2V544.3M822.2,555.7V555.7M814.9,532.2H829.5M814.9,555.7H829.5" stroke="#a8a4a4" stroke-width="0.9" fill="none"/>
<rect x="814.9" y="544.3" width="14.6" height="11.4" fill="#FB8072" stroke="#a8a4a4" stroke-width="0.7"/>
<path d="M814.9,550.2H829.5" stroke="#7c7c7c" stroke-width="0.9" stroke-opacity="0.5"/>
<text transform="translate(667.7,486.85) scale(1.055,1)" font-size="15.7" text-anchor="start" fill="#1c1c1c" stroke="#1c1c1c" stroke-width="0.4">cluster 3</text>
<polygon points="645.2,626.6 667.5,575.8 667.5,671.4 645.2,674.3" fill="#f9d0c3"/>
<rect x="668.0" y="575.8" width="168.3" height="95.6" fill="none" stroke="#858585" stroke-width="1.1"/>
<path d="M682.2,587.2V587.2M682.2,592.8V600M674.9,587.2H689.5M674.9,600H689.5" stroke="#a8a4a4" stroke-width="0.9" fill="none"/>
<rect x="674.9" y="587.2" width="14.6" height="5.6" fill="#8DD3C7" stroke="#a8a4a4" stroke-width="0.7"/>
<path d="M674.9,589.2H689.5" stroke="#7c7c7c" stroke-width="0.9" stroke-opacity="0.5"/>
<path d="M728.8,615.3V623.8M728.8,643V653.8M721.5,615.3H736.1M721.5,653.8H736.1" stroke="#a8a4a4" stroke-width="0.9" fill="none"/>
<rect x="721.5" y="623.8" width="14.6" height="19.2" fill="#FDFDB0" stroke="#a8a4a4" stroke-width="0.7"/>
<path d="M721.5,633.7H736.1" stroke="#7c7c7c" stroke-width="0.9" stroke-opacity="0.5"/>
<path d="M775.5,623.3V628M775.5,638.8V651.7M768.2,623.3H782.8M768.2,651.7H782.8" stroke="#a8a4a4" stroke-width="0.9" fill="none"/>
<rect x="768.2" y="628" width="14.6" height="10.8" fill="#BEBADA" stroke="#a8a4a4" stroke-width="0.7"/>
<path d="M768.2,634.2H782.8" stroke="#7c7c7c" stroke-width="0.9" stroke-opacity="0.5"/>
<path d="M822.2,618.3V632.8M822.2,643V652.8M814.9,618.3H829.5M814.9,652.8H829.5" stroke="#a8a4a4" stroke-width="0.9" fill="none"/>
<rect x="814.9" y="632.8" width="14.6" height="10.2" fill="#FB8072" stroke="#a8a4a4" stroke-width="0.7"/>
<path d="M814.9,637.8H829.5" stroke="#7c7c7c" stroke-width="0.9" stroke-opacity="0.5"/>
<text transform="translate(667.7,665.85) scale(1.055,1)" font-size="15.7" text-anchor="start" fill="#1c1c1c" stroke="#1c1c1c" stroke-width="0.4">cluster 5</text>
<polygon points="645.2,678.8 667.5,679.2 667.5,774.8000000000001 645.2,785.0" fill="#ef8787"/>
<rect x="668.0" y="679.2" width="168.3" height="95.6" fill="none" stroke="#858585" stroke-width="1.1"/>
<path d="M682.2,697.8V704.8M682.2,715.7V730.7M674.9,697.8H689.5M674.9,730.7H689.5" stroke="#a8a4a4" stroke-width="0.9" fill="none"/>
<rect x="674.9" y="704.8" width="14.6" height="10.9" fill="#8DD3C7" stroke="#a8a4a4" stroke-width="0.7"/>
<path d="M674.9,708.2H689.5" stroke="#7c7c7c" stroke-width="0.9" stroke-opacity="0.5"/>
<path d="M728.8,691.2V698.7M728.8,709.8V716.5M721.5,691.2H736.1M721.5,716.5H736.1" stroke="#a8a4a4" stroke-width="0.9" fill="none"/>
<rect x="721.5" y="698.7" width="14.6" height="11.1" fill="#FDFDB0" stroke="#a8a4a4" stroke-width="0.7"/>
<path d="M721.5,705.3H736.1" stroke="#7c7c7c" stroke-width="0.9" stroke-opacity="0.5"/>
<path d="M775.5,725.3V737.3M775.5,748.7V762.7M768.2,725.3H782.8M768.2,762.7H782.8" stroke="#a8a4a4" stroke-width="0.9" fill="none"/>
<rect x="768.2" y="737.3" width="14.6" height="11.4" fill="#BEBADA" stroke="#a8a4a4" stroke-width="0.7"/>
<path d="M768.2,743.7H782.8" stroke="#7c7c7c" stroke-width="0.9" stroke-opacity="0.5"/>
<path d="M822.2,735.3V744.8M822.2,754.3V757.3M814.9,735.3H829.5M814.9,757.3H829.5" stroke="#a8a4a4" stroke-width="0.9" fill="none"/>
<rect x="814.9" y="744.8" width="14.6" height="9.5" fill="#FB8072" stroke="#a8a4a4" stroke-width="0.7"/>
<path d="M814.9,749H829.5" stroke="#7c7c7c" stroke-width="0.9" stroke-opacity="0.5"/>
<text transform="translate(667.7,763.95) scale(1.055,1)" font-size="15.7" text-anchor="start" fill="#1c1c1c" stroke="#1c1c1c" stroke-width="0.4">cluster 8</text>
<polygon points="645.2,790.0 667.5,782.9 667.5,878.5 645.2,879.2" fill="#a3afc7"/>
<rect x="668.0" y="782.9" width="168.3" height="95.6" fill="none" stroke="#858585" stroke-width="1.1"/>
<path d="M682.2,805.5V812.7M682.2,818V824.2M674.9,805.5H689.5M674.9,824.2H689.5" stroke="#a8a4a4" stroke-width="0.9" fill="none"/>
<rect x="674.9" y="812.7" width="14.6" height="5.3" fill="#8DD3C7" stroke="#a8a4a4" stroke-width="0.7"/>
<path d="M674.9,815H689.5" stroke="#7c7c7c" stroke-width="0.9" stroke-opacity="0.5"/>
<path d="M728.8,804.3V812.5M728.8,818.5V826.7M721.5,804.3H736.1M721.5,826.7H736.1" stroke="#a8a4a4" stroke-width="0.9" fill="none"/>
<rect x="721.5" y="812.5" width="14.6" height="6.0" fill="#FDFDB0" stroke="#a8a4a4" stroke-width="0.7"/>
<path d="M721.5,815.5H736.1" stroke="#7c7c7c" stroke-width="0.9" stroke-opacity="0.5"/>
<path d="M775.5,819.2V824.3M775.5,832.2V836.8M768.2,819.2H782.8M768.2,836.8H782.8" stroke="#a8a4a4" stroke-width="0.9" fill="none"/>
<rect x="768.2" y="824.3" width="14.6" height="7.9" fill="#BEBADA" stroke="#a8a4a4" stroke-width="0.7"/>
<path d="M768.2,827.7H782.8" stroke="#7c7c7c" stroke-width="0.9" stroke-opacity="0.5"/>
<rect x="814.9" y="863.1" width="14.6" height="3.6" fill="#d2786a"/>
<text transform="translate(667.7,866.35) scale(1.055,1)" font-size="15.7" text-anchor="start" fill="#1c1c1c" stroke="#1c1c1c" stroke-width="0.4">cluster 4</text>
<path d="M993.00,209.10L993.00,120.17A5.50,5.50 0 0 1 998.84,114.68A94.60,94.60 0 0 1 1087.39,202.73A5.50,5.50 0 0 1 1081.93,208.60Z" fill="#FDFDB0" stroke="#fcefee" stroke-width="0.6" stroke-linejoin="round"/>
<path d="M993.00,209.10L1081.93,208.60A5.50,5.50 0 0 1 1087.45,214.41A94.60,94.60 0 0 1 1038.17,292.22A5.50,5.50 0 0 1 1030.56,289.71Z" fill="#8DD3C7" stroke="#fcefee" stroke-width="0.6" stroke-linejoin="round"/>
<path d="M993.00,209.10L1030.56,289.71A5.50,5.50 0 0 1 1027.58,297.15A94.60,94.60 0 0 1 943.30,289.59A5.50,5.50 0 0 1 941.70,281.74Z" fill="#FDB462" stroke="#fcefee" stroke-width="0.6" stroke-linejoin="round"/>
<path d="M993.00,209.10L941.70,281.74A5.50,5.50 0 0 1 933.76,282.86A94.60,94.60 0 0 1 898.41,208.07A5.50,5.50 0 0 1 904.30,202.64Z" fill="#80B1D3" stroke="#fcefee" stroke-width="0.6" stroke-linejoin="round"/>
<path d="M993.00,209.10L904.30,202.64A5.50,5.50 0 0 1 899.25,196.42A94.60,94.60 0 0 1 907.24,169.17A5.50,5.50 0 0 1 914.85,166.66Z" fill="#FB8072" stroke="#fcefee" stroke-width="0.6" stroke-linejoin="round"/>
<path d="M993.00,209.10L914.85,166.66A5.50,5.50 0 0 1 912.81,158.91A94.60,94.60 0 0 1 926.65,141.67A5.50,5.50 0 0 1 934.66,141.98Z" fill="#FCCDE5" stroke="#fcefee" stroke-width="0.6" stroke-linejoin="round"/>
<path d="M993.00,209.10L934.66,141.98A5.50,5.50 0 0 1 935.47,134.01A94.60,94.60 0 0 1 952.54,123.59A5.50,5.50 0 0 1 960.00,126.52Z" fill="#BEBADA" stroke="#fcefee" stroke-width="0.6" stroke-linejoin="round"/>
<path d="M993.00,209.10L960.00,126.52A5.50,5.50 0 0 1 963.39,119.25A94.60,94.60 0 0 1 972.51,116.74A5.50,5.50 0 0 1 979.14,121.26Z" fill="#B3DE69" stroke="#fcefee" stroke-width="0.6" stroke-linejoin="round"/>
<path d="M993.00,209.10L978.89,119.66A3.97,3.97 0 0 1 982.36,115.10A94.60,94.60 0 0 1 982.53,115.08A3.97,3.97 0 0 1 986.93,118.76Z" fill="#CCEBC5" stroke="#fcefee" stroke-width="0.6" stroke-linejoin="round"/>
<path d="M993.00,209.10L986.86,117.76A3.01,3.01 0 0 1 989.76,114.56A94.60,94.60 0 0 1 989.89,114.55A3.01,3.01 0 0 1 993.00,117.56Z" fill="#BC80BD" stroke="#fcefee" stroke-width="0.6" stroke-linejoin="round"/>
<text x="1034.8" y="169.9" font-size="20.7" text-anchor="middle" dominant-baseline="central" fill="#101010" stroke="#101010" stroke-width="0.35">70</text>
<text x="1041.2" y="237.8" font-size="20.7" text-anchor="middle" dominant-baseline="central" fill="#101010" stroke="#101010" stroke-width="0.35">51</text>
<text x="988.2" y="265.6" font-size="20.7" text-anchor="middle" dominant-baseline="central" fill="#101010" stroke="#101010" stroke-width="0.35">47</text>
<text x="937.4" y="231.4" font-size="20.7" text-anchor="middle" dominant-baseline="central" fill="#101010" stroke="#101010" stroke-width="0.35">46</text>
<text x="929.4" y="191.9" font-size="20.7" text-anchor="middle" dominant-baseline="central" fill="#101010" stroke="#101010" stroke-width="0.35">19</text>
<text x="935.6" y="166.8" font-size="20.7" text-anchor="middle" dominant-baseline="central" fill="#101010" stroke="#101010" stroke-width="0.35">16</text>
<text x="954" y="148.4" font-size="20.7" text-anchor="middle" dominant-baseline="central" fill="#101010" stroke="#101010" stroke-width="0.35">15</text>
<text x="972.4" y="139.1" font-size="20.7" text-anchor="middle" dominant-baseline="central" fill="#101010" stroke="#101010" stroke-width="0.35">10</text>
<text x="968.5" y="97.2" font-size="20.7" text-anchor="middle" dominant-baseline="central" fill="#101010" stroke="#101010" stroke-width="0.35">4</text>
<text x="1001" y="95.6" font-size="20.7" text-anchor="middle" dominant-baseline="central" fill="#101010" stroke="#101010" stroke-width="0.35">3</text>
<path d="M976,106.6L982,115.4M995.8,106.6L990,114.7" stroke="#6a6a6a" stroke-width="0.9" fill="none"/>
<path d="M989.80,623.80L989.80,576.09A3.00,3.00 0 0 1 992.99,573.10A50.80,50.80 0 0 1 1032.18,651.81A3.00,3.00 0 0 1 1027.87,652.55Z" fill="#BEBADA" stroke="#f1f2f8" stroke-width="0.6" stroke-linejoin="round"/>
<path d="M989.80,623.80L1027.87,652.55A3.00,3.00 0 0 1 1028.34,656.90A50.80,50.80 0 0 1 951.26,656.90A3.00,3.00 0 0 1 951.73,652.55Z" fill="#FDFDB0" stroke="#f1f2f8" stroke-width="0.6" stroke-linejoin="round"/>
<path d="M989.80,623.80L951.73,652.55A3.00,3.00 0 0 1 947.42,651.81A50.80,50.80 0 0 1 939.61,631.65A3.00,3.00 0 0 1 942.30,628.20Z" fill="#FB8072" stroke="#f1f2f8" stroke-width="0.6" stroke-linejoin="round"/>
<path d="M989.80,623.80L942.30,628.20A3.00,3.00 0 0 1 939.02,625.30A50.80,50.80 0 0 1 942.99,604.06A3.00,3.00 0 0 1 947.10,602.54Z" fill="#80B1D3" stroke="#f1f2f8" stroke-width="0.6" stroke-linejoin="round"/>
<path d="M989.80,623.80L947.10,602.54A3.00,3.00 0 0 1 945.84,598.35A50.80,50.80 0 0 1 960.40,582.37A3.00,3.00 0 0 1 964.69,583.24Z" fill="#8DD3C7" stroke="#f1f2f8" stroke-width="0.6" stroke-linejoin="round"/>
<path d="M989.80,623.80L964.69,583.24A3.00,3.00 0 0 1 965.82,579.02A50.80,50.80 0 0 1 968.51,577.68A3.00,3.00 0 0 1 972.57,579.32Z" fill="#B3DE69" stroke="#f1f2f8" stroke-width="0.6" stroke-linejoin="round"/>
<path d="M989.80,623.80L972.57,579.32A3.00,3.00 0 0 1 974.46,575.37A50.80,50.80 0 0 1 977.35,574.55A3.00,3.00 0 0 1 981.03,576.91Z" fill="#FDB462" stroke="#f1f2f8" stroke-width="0.6" stroke-linejoin="round"/>
<path d="M989.80,623.80L981.03,576.91A3.00,3.00 0 0 1 983.62,573.38A50.80,50.80 0 0 1 986.61,573.10A3.00,3.00 0 0 1 989.80,576.09Z" fill="#FCCDE5" stroke="#f1f2f8" stroke-width="0.6" stroke-linejoin="round"/>
<text x="1014.2" y="606.6" font-size="14.5" text-anchor="middle" dominant-baseline="central" fill="#101010" stroke="#101010" stroke-width="0.35">12</text>
<text x="992" y="651.4" font-size="14.5" text-anchor="middle" dominant-baseline="central" fill="#101010" stroke="#101010" stroke-width="0.35">10</text>
<text x="955.3" y="637.8" font-size="14.5" text-anchor="middle" dominant-baseline="central" fill="#101010" stroke="#101010" stroke-width="0.35" transform="rotate(8,955.3,637.8)">3</text>
<text x="950.4" y="617.2" font-size="14.5" text-anchor="middle" dominant-baseline="central" fill="#101010" stroke="#101010" stroke-width="0.35" transform="rotate(-5,950.4,617.2)">3</text>
<text x="959.9" y="597.6" font-size="14.5" text-anchor="middle" dominant-baseline="central" fill="#101010" stroke="#101010" stroke-width="0.35" transform="rotate(-10,959.9,597.6)">3</text>
<text x="970.7" y="586.6" font-size="12.4" text-anchor="middle" dominant-baseline="central" fill="#101010" stroke="#101010" stroke-width="0.35" transform="rotate(-25,970.7,586.6)">1</text>
<text x="978.2" y="583.3" font-size="12.4" text-anchor="middle" dominant-baseline="central" fill="#101010" stroke="#101010" stroke-width="0.35" transform="rotate(-8,978.2,583.3)">1</text>
<text x="986.3" y="582.3" font-size="12.4" text-anchor="middle" dominant-baseline="central" fill="#101010" stroke="#101010" stroke-width="0.35">1</text>
<path d="M990.80,780.70L990.80,692.17A5.50,5.50 0 0 1 996.64,686.68A94.20,94.20 0 0 1 1071.75,828.88A5.50,5.50 0 0 1 1063.92,830.61Z" fill="#FDFDB0" stroke="#f1f2f8" stroke-width="0.6" stroke-linejoin="round"/>
<path d="M990.80,780.70L1063.92,830.61A5.50,5.50 0 0 1 1065.16,838.53A94.20,94.20 0 0 1 960.97,870.05A5.50,5.50 0 0 1 957.62,862.77Z" fill="#8DD3C7" stroke="#f1f2f8" stroke-width="0.6" stroke-linejoin="round"/>
<path d="M990.80,780.70L957.62,862.77A5.50,5.50 0 0 1 950.14,865.67A94.20,94.20 0 0 1 907.25,824.21A5.50,5.50 0 0 1 909.90,816.65Z" fill="#FB8072" stroke="#f1f2f8" stroke-width="0.6" stroke-linejoin="round"/>
<path d="M990.80,780.70L909.90,816.65A5.50,5.50 0 0 1 902.51,813.54A94.20,94.20 0 0 1 898.44,762.18A5.50,5.50 0 0 1 905.24,757.95Z" fill="#FDB462" stroke="#f1f2f8" stroke-width="0.6" stroke-linejoin="round"/>
<path d="M990.80,780.70L905.24,757.95A5.50,5.50 0 0 1 901.44,750.89A94.20,94.20 0 0 1 927.28,711.14A5.50,5.50 0 0 1 935.27,711.75Z" fill="#80B1D3" stroke="#f1f2f8" stroke-width="0.6" stroke-linejoin="round"/>
<path d="M990.80,780.70L935.27,711.75A5.50,5.50 0 0 1 936.37,703.81A94.20,94.20 0 0 1 955.99,693.17A5.50,5.50 0 0 1 963.25,696.57Z" fill="#B3DE69" stroke="#f1f2f8" stroke-width="0.6" stroke-linejoin="round"/>
<path d="M990.80,780.70L963.25,696.57A5.50,5.50 0 0 1 967.10,689.53A94.20,94.20 0 0 1 976.49,687.59A5.50,5.50 0 0 1 982.81,692.53Z" fill="#FCCDE5" stroke="#f1f2f8" stroke-width="0.6" stroke-linejoin="round"/>
<path d="M990.80,780.70L982.66,690.95A3.99,3.99 0 0 1 986.45,686.60A94.20,94.20 0 0 1 986.63,686.59A3.99,3.99 0 0 1 990.80,690.58Z" fill="#BEBADA" stroke="#f1f2f8" stroke-width="0.6" stroke-linejoin="round"/>
<text x="1041" y="755.9" font-size="20.4" text-anchor="middle" dominant-baseline="central" fill="#101010" stroke="#101010" stroke-width="0.35">48</text>
<text x="1003.2" y="836.6" font-size="20.4" text-anchor="middle" dominant-baseline="central" fill="#101010" stroke="#101010" stroke-width="0.35">30</text>
<text x="947.4" y="827.6" font-size="20.4" text-anchor="middle" dominant-baseline="central" fill="#101010" stroke="#101010" stroke-width="0.35">17</text>
<text x="926.9" y="787.6" font-size="20.4" text-anchor="middle" dominant-baseline="central" fill="#101010" stroke="#101010" stroke-width="0.35">15</text>
<text x="928.6" y="746.0" font-size="20.4" text-anchor="middle" dominant-baseline="central" fill="#101010" stroke="#101010" stroke-width="0.35">14</text>
<text x="955.2" y="719.0" font-size="20.4" text-anchor="middle" dominant-baseline="central" fill="#101010" stroke="#101010" stroke-width="0.35">8</text>
<text x="976.4" y="708.8" font-size="20.4" text-anchor="middle" dominant-baseline="central" fill="#101010" stroke="#101010" stroke-width="0.35">5</text>
<text x="987.9" y="708.8" font-size="20.4" text-anchor="middle" dominant-baseline="central" fill="#101010" stroke="#101010" stroke-width="0.35">2</text>
<rect x="858" y="320" width="23.8" height="23.4" fill="#CCEBC5"/>
<text transform="translate(887.0,338.9) scale(1.076,1)" font-size="18" text-anchor="start" fill="#3a3a3a" stroke="#3a3a3a" stroke-width="0.4">Isoquinolines</text>
<rect x="858" y="353.3" width="23.8" height="23.4" fill="#8DD3C7"/>
<text transform="translate(887.0,372.4) scale(1.076,1)" font-size="18" text-anchor="start" fill="#3a3a3a" stroke="#3a3a3a" stroke-width="0.4">Alkaloids</text>
<rect x="988.6" y="353.3" width="23.8" height="23.4" fill="#BC80BD"/>
<text transform="translate(1017.6,372.4) scale(1.076,1)" font-size="18" text-anchor="start" fill="#3a3a3a" stroke="#3a3a3a" stroke-width="0.4">Vitamins</text>
<rect x="858" y="388.4" width="23.8" height="23.4" fill="#FDFDB0"/>
<text transform="translate(887.0,409.5) scale(1.076,1)" font-size="18" text-anchor="start" fill="#3a3a3a" stroke="#3a3a3a" stroke-width="0.4">Phenolic compounds</text>
<rect x="858" y="424.2" width="23.8" height="23.4" fill="#BEBADA"/>
<text transform="translate(887.0,446.4) scale(1.076,1)" font-size="18" text-anchor="start" fill="#3a3a3a" stroke="#3a3a3a" stroke-width="0.4">Aliphatic alcohols</text>
<rect x="1056.8" y="429" width="23.8" height="23.4" fill="#80B1D3"/>
<text transform="translate(1085.8,447.9) scale(1.076,1)" font-size="18" text-anchor="start" fill="#3a3a3a" stroke="#3a3a3a" stroke-width="0.4">Others</text>
<rect x="858" y="460" width="23.8" height="23.4" fill="#FB8072"/>
<text transform="translate(887.0,481.5) scale(1.076,1)" font-size="18" text-anchor="start" fill="#3a3a3a" stroke="#3a3a3a" stroke-width="0.4">Amino acids and derivatives</text>
<rect x="858" y="494.6" width="23.8" height="23.4" fill="#B3DE69"/>
<text transform="translate(887.0,516) scale(1.076,1)" font-size="18" text-anchor="start" fill="#3a3a3a" stroke="#3a3a3a" stroke-width="0.4">Nucleotides and derivatives</text>
<rect x="858" y="530.4" width="23.8" height="23.4" fill="#FCCDE5"/>
<text transform="translate(887.0,551.1) scale(1.076,1)" font-size="18" text-anchor="start" fill="#3a3a3a" stroke="#3a3a3a" stroke-width="0.4">Organic acids</text>
<rect x="1022.6" y="532.6" width="23.8" height="23.4" fill="#FDB462"/>
<text transform="translate(1051.6,552.9) scale(1.076,1)" font-size="18" text-anchor="start" fill="#3a3a3a" stroke="#3a3a3a" stroke-width="0.4">Terpenoids</text>
<rect x="429" y="893" width="175.2" height="19.2" fill="url(#cb)"/>
<text transform="translate(345.2,909.4) scale(1.03,1)" font-size="23.2" text-anchor="start" fill="#141414" stroke="#141414" stroke-width="0.4">Z-score</text>
<text transform="translate(428,939)" font-size="21.5" text-anchor="middle" fill="#141414" stroke="#141414" stroke-width="0.4">−2</text>
<text transform="translate(468.2,939)" font-size="21.5" text-anchor="middle" fill="#141414" stroke="#141414" stroke-width="0.4">−1</text>
<text transform="translate(515,939)" font-size="21.5" text-anchor="middle" fill="#141414" stroke="#141414" stroke-width="0.4">0</text>
<text transform="translate(556.5,939)" font-size="21.5" text-anchor="middle" fill="#141414" stroke="#141414" stroke-width="0.4">1</text>
<text transform="translate(595,939)" font-size="21.5" text-anchor="middle" fill="#141414" stroke="#141414" stroke-width="0.4">2</text>
<rect x="434.5" y="908.6" width="1" height="3.4" fill="#ffffff" fill-opacity="0.7"/>
<rect x="475.0" y="908.6" width="1" height="3.4" fill="#ffffff" fill-opacity="0.7"/>
<rect x="515.5" y="908.6" width="1" height="3.4" fill="#ffffff" fill-opacity="0.7"/>
<rect x="556.1" y="908.6" width="1" height="3.4" fill="#ffffff" fill-opacity="0.7"/>
<rect x="596.5" y="908.6" width="1" height="3.4" fill="#ffffff" fill-opacity="0.7"/>
<rect x="65.2" y="62.7" width="1.5" height="2.2" fill="#b5b5b5"/><rect x="65.2" y="73.8" width="1.5" height="2.2" fill="#b5b5b5"/><rect x="65.2" y="84.9" width="1.5" height="2.2" fill="#b5b5b5"/><rect x="65.2" y="96.0" width="1.5" height="2.2" fill="#b5b5b5"/><rect x="65.2" y="107.1" width="1.5" height="2.2" fill="#b5b5b5"/><rect x="65.2" y="118.2" width="1.5" height="2.2" fill="#b5b5b5"/><rect x="65.2" y="129.3" width="1.5" height="2.2" fill="#b5b5b5"/><rect x="65.2" y="140.4" width="1.5" height="2.2" fill="#b5b5b5"/><rect x="65.2" y="151.5" width="1.5" height="2.2" fill="#b5b5b5"/><rect x="65.2" y="162.6" width="1.5" height="2.2" fill="#b5b5b5"/><rect x="65.2" y="173.7" width="1.5" height="2.2" fill="#b5b5b5"/><rect x="65.2" y="184.8" width="1.5" height="2.2" fill="#b5b5b5"/><rect x="65.2" y="195.9" width="1.5" height="2.2" fill="#b5b5b5"/><rect x="65.2" y="207.0" width="1.5" height="2.2" fill="#b5b5b5"/><rect x="65.2" y="218.1" width="1.5" height="2.2" fill="#b5b5b5"/><rect x="65.2" y="229.2" width="1.5" height="2.2" fill="#b5b5b5"/><rect x="65.2" y="240.3" width="1.5" height="2.2" fill="#b5b5b5"/><rect x="65.2" y="251.4" width="1.5" height="2.2" fill="#b5b5b5"/><rect x="65.2" y="262.5" width="1.5" height="2.2" fill="#b5b5b5"/><rect x="65.2" y="273.6" width="1.5" height="2.2" fill="#b5b5b5"/><rect x="65.2" y="284.7" width="1.5" height="2.2" fill="#b5b5b5"/><rect x="65.2" y="295.8" width="1.5" height="2.2" fill="#b5b5b5"/><rect x="65.2" y="306.9" width="1.5" height="2.2" fill="#b5b5b5"/><rect x="65.2" y="318.0" width="1.5" height="2.2" fill="#b5b5b5"/><rect x="65.2" y="329.1" width="1.5" height="2.2" fill="#b5b5b5"/><rect x="65.2" y="340.2" width="1.5" height="2.2" fill="#b5b5b5"/><rect x="65.2" y="351.3" width="1.5" height="2.2" fill="#b5b5b5"/><rect x="65.2" y="362.4" width="1.5" height="2.2" fill="#b5b5b5"/><rect x="65.2" y="373.5" width="1.5" height="2.2" fill="#b5b5b5"/><rect x="65.2" y="384.6" width="1.5" height="2.2" fill="#b5b5b5"/><rect x="65.2" y="395.7" width="1.5" height="2.2" fill="#b5b5b5"/><rect x="65.2" y="406.8" width="1.5" height="2.2" fill="#b5b5b5"/><rect x="65.2" y="417.9" width="1.5" height="2.2" fill="#b5b5b5"/><rect x="65.2" y="429.0" width="1.5" height="2.2" fill="#b5b5b5"/><rect x="65.2" y="440.1" width="1.5" height="2.2" fill="#b5b5b5"/><rect x="65.2" y="451.2" width="1.5" height="2.2" fill="#b5b5b5"/><rect x="65.2" y="462.3" width="1.5" height="2.2" fill="#b5b5b5"/><rect x="65.2" y="473.4" width="1.5" height="2.2" fill="#b5b5b5"/><rect x="65.2" y="484.5" width="1.5" height="2.2" fill="#b5b5b5"/><rect x="65.2" y="495.6" width="1.5" height="2.2" fill="#b5b5b5"/><rect x="65.2" y="506.7" width="1.5" height="2.2" fill="#b5b5b5"/><rect x="65.2" y="517.8" width="1.5" height="2.2" fill="#b5b5b5"/><rect x="65.2" y="528.9" width="1.5" height="2.2" fill="#b5b5b5"/><rect x="65.2" y="540.0" width="1.5" height="2.2" fill="#b5b5b5"/><rect x="65.2" y="551.1" width="1.5" height="2.2" fill="#b5b5b5"/><rect x="65.2" y="562.2" width="1.5" height="2.2" fill="#b5b5b5"/><rect x="65.2" y="573.3" width="1.5" height="2.2" fill="#b5b5b5"/><rect x="65.2" y="584.4" width="1.5" height="2.2" fill="#b5b5b5"/><rect x="65.2" y="595.5" width="1.5" height="2.2" fill="#b5b5b5"/><rect x="65.2" y="606.6" width="1.5" height="2.2" fill="#b5b5b5"/><rect x="65.2" y="617.7" width="1.5" height="2.2" fill="#b5b5b5"/><rect x="65.2" y="628.8" width="1.5" height="2.2" fill="#b5b5b5"/><rect x="65.2" y="639.9" width="1.5" height="2.2" fill="#b5b5b5"/><rect x="65.2" y="651.0" width="1.5" height="2.2" fill="#b5b5b5"/><rect x="65.2" y="662.1" width="1.5" height="2.2" fill="#b5b5b5"/><rect x="65.2" y="673.2" width="1.5" height="2.2" fill="#b5b5b5"/><rect x="65.2" y="684.3" width="1.5" height="2.2" fill="#b5b5b5"/><rect x="65.2" y="695.4" width="1.5" height="2.2" fill="#b5b5b5"/><rect x="65.2" y="706.5" width="1.5" height="2.2" fill="#b5b5b5"/><rect x="65.2" y="717.6" width="1.5" height="2.2" fill="#b5b5b5"/><rect x="65.2" y="728.7" width="1.5" height="2.2" fill="#b5b5b5"/><rect x="65.2" y="739.8" width="1.5" height="2.2" fill="#b5b5b5"/><rect x="65.2" y="750.9" width="1.5" height="2.2" fill="#b5b5b5"/><rect x="65.2" y="762.0" width="1.5" height="2.2" fill="#b5b5b5"/><rect x="65.2" y="773.1" width="1.5" height="2.2" fill="#b5b5b5"/><rect x="65.2" y="784.2" width="1.5" height="2.2" fill="#b5b5b5"/><rect x="65.2" y="795.3" width="1.5" height="2.2" fill="#b5b5b5"/><rect x="65.2" y="806.4" width="1.5" height="2.2" fill="#b5b5b5"/><rect x="65.2" y="817.5" width="1.5" height="2.2" fill="#b5b5b5"/><rect x="65.2" y="828.6" width="1.5" height="2.2" fill="#b5b5b5"/><rect x="65.2" y="839.7" width="1.5" height="2.2" fill="#b5b5b5"/><rect x="65.2" y="850.8" width="1.5" height="2.2" fill="#b5b5b5"/>
<path d="M43.7,240.5V655.9M43.7,240.5H53.5M43.7,655.9H53.9M53.5,87V394.6M53.5,87H68.2M53.5,394.6H59.9M59.9,268.4V520.1M59.9,268.4H65.1M59.9,520.1H73.4M65.1,180.3H75.8M65.1,356.3H78.1M53.9,595.7V717.7M53.9,595.7H72M53.9,717.7H56.7M56.7,659.6V775.5M56.7,659.6H72M56.7,775.5H60.8M60.8,718.4V832.9M60.8,718.4H72.7M60.8,832.9H81.6" stroke="#6b6b6b" stroke-width="1" fill="none"/>
<path d="M65.1,180.3V356.3" stroke="#555" stroke-width="1" stroke-dasharray="4.2,1.6" fill="none"/>
<path d="M68.2,58.9V115.7M68.2,58.9H91M68.2,115.7H75.4M75.4,105.5V126M75.4,126H86M75.4,105.5H77M77,93V117M77,93H83.5M83.5,76V101M83.5,76H88M83.5,101H88M77,117H81M81,111V122M75.8,136.3V225.4M75.8,136.3H86M75.8,225.4H82.2M82.2,178.9V271.9M82.2,178.9H87M87,178.9V208M82.2,271.9H86.5M86.5,264.4V279.4M78.1,302.3V409.7M78.1,302.3H82.5M82.5,294.8V311.2M82.5,294.8H90M82.5,311.2H87M78.1,409.7H86M86,344.7V452.4M87.5,365V430M73.4,506.4V533.1M73.4,506.4H77.5M77.5,490.7V522.2M77.5,490.7H82.6M82.6,476.8V504.4M82.6,476.8H87M82.6,504.4H86M77.5,522.2H82M82,515V529M73.4,533.1H80M80,529V538M72,571V620.3M72,571H75.4M75.4,557.4V584.7M75.4,557.4H83M83,551V565M75.4,584.7H77.2M77.2,575V595M77.2,575H83M77.2,595H83M83,588V603M72,620.3H88M72,644.9V671.9M72,644.9H78M78,635.3V654M78,635.3H84M78,654H83M83,649V660M72,671.9H84M72.7,679.4V756M72.7,679.4H90M72.7,756H76.5M76.5,732V781M76.5,732H80M80,704.7V758.8M80,704.7H82.5M82.5,687.6V734.8M82.5,687.6H88M80,758.8H84M76.5,781H84M84,776V785M84.5,705V725M81.6,809.7V854.8M81.6,809.7H85M85,797.4V824.7M81.6,854.8H84M84,830V872.6M84,872.6H88M85,797.4H88" stroke="#4a4a4a" stroke-width="0.9" fill="none"/>
<path d="M92.4,57.7H91.3V59.1H92.4M92.4,60.5H91.3V61.9H92.4M91.3,58.4H91.0V61.2H91.3M92.4,63.3H91.4V64.7H92.4M92.4,66.1H91.5V67.5H92.4M91.5,66.8H91.2V68.9H92.4M91.4,64.0H90.9V67.9H91.2M91.0,59.8H90.5V65.9H90.9M92.4,71.7H91.7V73.1H92.4M91.7,72.4H91.4V74.5H92.4M91.4,73.5H91.1V76.0H92.4M91.1,74.7H90.8V77.4H92.4M92.4,70.3H90.5V76.0H90.8M90.5,62.9H89.5V73.2H90.5M92.4,81.6H91.2V83.0H92.4M92.4,80.2H90.9V82.3H91.2M92.4,78.8H90.6V81.2H90.9M89.5,68.0H88.5V80.0H90.6M92.4,84.4H91.2V85.8H92.4M92.4,87.2H90.6V88.6H92.4M91.2,85.1H89.8V87.9H90.6M88.5,74.0H87.6V86.5H89.8M92.4,94.2H91.3V95.6H92.4M92.4,92.8H91.0V94.9H91.3M92.4,91.4H90.4V93.9H91.0M92.4,90.0H89.6V92.6H90.4M92.4,97.0H90.2V98.4H92.4M89.6,91.3H88.9V97.7H90.2M87.6,80.2H85.8V94.5H88.9M92.4,99.8H90.1V101.2H92.4M92.4,102.6H90.2V104.0H92.4M92.4,105.4H90.4V106.8H92.4M90.2,103.3H89.6V106.1H90.4M90.1,100.5H88.4V104.7H89.6M88.4,102.6H87.8V108.2H92.4M92.4,111.1H91.3V112.5H92.4M91.3,111.8H91.0V113.9H92.4M91.0,112.8H90.7V115.3H92.4M92.4,116.7H91.3V118.1H92.4M92.4,119.5H91.3V120.9H92.4M91.3,117.4H90.9V120.2H91.3M90.7,114.0H90.2V118.8H90.9M92.4,123.7H90.9V125.1H92.4M92.4,122.3H90.6V124.4H90.9M90.2,116.4H89.6V123.3H90.6M92.4,126.5H90.3V127.9H92.4M89.6,119.9H88.4V127.2H90.3M92.4,109.6H87.0V123.5H88.4M92.4,136.8H89.6V138.2H92.4M92.4,135.4H88.7V137.5H89.6M92.4,134.0H86.9V136.5H88.7M92.4,139.6H91.4V141.0H92.4M92.4,142.4H91.0V143.9H92.4M92.4,145.3H91.0V146.7H92.4M92.4,148.1H90.4V149.5H92.4M91.0,146.0H89.8V148.8H90.4M91.0,143.2H89.3V147.4H89.8M91.4,140.3H88.6V145.3H89.3M92.4,150.9H90.5V152.3H92.4M92.4,156.5H91.2V157.9H92.4M92.4,155.1H90.8V157.2H91.2M92.4,159.3H91.3V160.7H92.4M90.8,156.2H90.2V160.0H91.3M92.4,153.7H89.9V158.1H90.2M90.5,151.6H89.3V155.9H89.9M92.4,166.4H90.9V167.8H92.4M92.4,165.0H90.6V167.1H90.9M92.4,163.6H90.2V166.0H90.6M92.4,162.1H89.8V164.8H90.2M89.3,153.7H88.3V163.5H89.8M88.6,142.8H86.6V158.6H88.3M92.4,169.2H88.5V170.6H92.4M88.5,169.9H85.8V172.0H92.4M92.4,173.4H90.7V174.8H92.4M92.4,180.4H91.4V181.8H92.4M92.4,179.0H91.1V181.1H91.4M92.4,177.6H90.8V180.1H91.1M92.4,176.2H90.4V178.9H90.8M90.7,174.1H89.8V177.5H90.4M92.4,184.7H91.3V186.1H92.4M92.4,187.5H91.3V188.9H92.4M91.3,185.4H91.0V188.2H91.3M92.4,183.3H90.6V186.8H91.0M89.8,175.8H89.2V185.0H90.6M92.4,193.1H91.4V194.5H92.4M92.4,191.7H91.1V193.8H91.4M92.4,190.3H90.8V192.8H91.1M92.4,197.3H91.5V198.7H92.4M92.4,200.1H91.6V201.5H92.4M91.6,200.8H91.3V203.0H92.4M91.5,198.0H91.0V201.9H91.3M92.4,195.9H90.7V200.0H91.0M90.8,191.5H90.0V197.9H90.7M90.0,194.7H89.3V204.4H92.4M89.3,199.5H88.7V205.8H92.4M89.2,180.4H87.1V202.7H88.7M92.4,210.0H90.9V211.4H92.4M92.4,208.6H90.6V210.7H90.9M92.4,207.2H90.3V209.6H90.6M90.3,208.4H89.8V212.8H92.4M92.4,218.4H91.4V219.8H92.4M92.4,217.0H91.1V219.1H91.4M92.4,215.6H90.8V218.1H91.1M92.4,214.2H90.4V216.9H90.8M89.8,210.6H89.1V215.5H90.4M92.4,221.3H91.1V222.7H92.4M92.4,224.1H91.3V225.5H92.4M91.1,222.0H90.6V224.8H91.3M92.4,226.9H91.1V228.3H92.4M91.1,227.6H90.8V229.7H92.4M90.6,223.4H89.7V228.6H90.8M92.4,232.5H91.2V233.9H92.4M91.2,233.2H90.9V235.3H92.4M92.4,231.1H90.6V234.3H90.9M90.6,232.7H90.3V236.7H92.4M92.4,238.1H90.9V239.5H92.4M90.9,238.8H90.6V241.0H92.4M90.3,234.7H89.6V239.9H90.6M89.7,226.0H88.5V237.3H89.6M92.4,242.4H90.2V243.8H92.4M88.5,231.7H87.6V243.1H90.2M89.1,213.1H86.3V237.4H87.6M92.4,245.2H90.8V246.6H92.4M90.8,245.9H88.5V248.0H92.4M92.4,249.4H90.7V250.8H92.4M88.5,246.9H86.6V250.1H90.7M92.4,252.2H91.3V253.6H92.4M92.4,256.4H90.5V257.8H92.4M90.5,257.1H90.2V259.2H92.4M92.4,255.0H89.4V258.2H90.2M91.3,252.9H88.9V256.6H89.4M92.4,263.5H90.9V264.9H92.4M92.4,262.1H90.6V264.2H90.9M92.4,260.7H90.3V263.1H90.6M90.3,261.9H90.0V266.3H92.4M92.4,267.7H90.6V269.1H92.4M90.0,264.1H89.5V268.4H90.6M92.4,270.5H90.7V271.9H92.4M92.4,273.3H90.8V274.7H92.4M90.7,271.2H90.2V274.0H90.8M92.4,277.5H91.6V278.9H92.4M91.6,278.2H91.3V280.4H92.4M92.4,276.1H91.0V279.3H91.3M91.0,277.7H90.7V281.8H92.4M90.7,279.7H90.3V283.2H92.4M92.4,284.6H90.9V286.0H92.4M90.3,281.5H89.9V285.3H90.9M90.2,272.6H88.9V283.4H89.9M89.5,266.2H87.9V278.0H88.9M92.4,287.4H90.0V288.8H92.4M87.9,272.1H87.0V288.1H90.0M88.9,254.8H86.3V280.1H87.0M92.4,296.6H90.4V298.0H92.4M92.4,295.2H86.4V297.3H90.4M92.4,300.8H90.7V302.2H92.4M92.4,303.6H90.7V305.0H92.4M90.7,301.5H90.3V304.3H90.7M90.3,302.9H89.9V306.4H92.4M92.4,299.4H89.0V304.6H89.9M92.4,307.8H90.0V309.2H92.4M89.0,302.0H88.5V308.5H90.0M92.4,310.6H90.1V312.0H92.4M90.1,311.3H89.7V313.4H92.4M88.5,305.3H88.0V312.3H89.7M92.4,316.2H90.6V317.6H92.4M90.6,316.9H90.3V319.0H92.4M90.3,317.9H89.6V320.4H92.4M92.4,314.8H89.0V319.2H89.6M92.4,321.8H90.4V323.2H92.4M92.4,324.6H89.9V326.0H92.4M90.4,322.5H89.2V325.3H89.9M89.2,323.9H88.8V327.4H92.4M89.0,317.0H87.8V325.6H88.8M88.0,308.8H85.9V321.3H87.8M92.4,328.8H89.4V330.2H92.4M92.4,331.6H89.9V333.0H92.4M89.4,329.5H88.6V332.3H89.9M92.4,338.6H91.0V340.0H92.4M91.0,339.3H90.1V341.4H92.4M92.4,337.2H89.2V340.3H90.1M92.4,335.8H88.2V338.7H89.2M92.4,334.4H87.7V337.3H88.2M88.6,330.9H86.5V335.8H87.7M92.4,344.2H90.9V345.6H92.4M90.9,344.9H90.6V347.0H92.4M92.4,348.4H90.7V349.8H92.4M90.6,345.9H90.1V349.1H90.7M92.4,342.8H89.4V347.5H90.1M92.4,351.2H90.4V352.6H92.4M92.4,354.0H90.8V355.4H92.4M90.4,351.9H89.8V354.7H90.8M92.4,356.8H90.3V358.2H92.4M90.3,357.5H90.0V359.6H92.4M89.8,353.3H89.2V358.5H90.0M89.4,345.1H87.5V355.9H89.2M92.4,361.0H90.6V362.4H92.4M92.4,363.8H91.3V365.2H92.4M90.6,361.7H90.1V364.5H91.3M92.4,366.6H90.6V368.0H92.4M90.6,367.3H90.3V369.4H92.4M90.1,363.1H89.2V368.3H90.3M87.5,350.5H86.7V365.7H89.2M92.4,372.2H90.5V373.6H92.4M92.4,370.8H90.2V372.9H90.5M92.4,375.0H90.6V376.4H92.4M90.6,375.7H90.0V377.8H92.4M90.2,371.8H89.3V376.7H90.0M92.4,379.1H90.1V380.5H92.4M89.3,374.3H88.7V379.8H90.1M86.7,358.1H85.9V377.1H88.7M92.4,383.3H90.0V384.7H92.4M92.4,381.9H89.7V384.0H90.0M89.7,383.0H88.6V386.1H92.4M92.4,387.5H90.8V388.9H92.4M90.8,388.2H90.1V390.3H92.4M90.1,389.3H89.0V391.7H92.4M88.6,384.6H86.9V390.5H89.0M92.4,397.3H91.3V398.7H92.4M91.3,398.0H91.0V400.1H92.4M92.4,395.9H90.7V399.1H91.0M92.4,394.5H90.2V397.5H90.7M92.4,393.1H89.7V396.0H90.2M92.4,402.9H91.2V404.3H92.4M91.2,403.6H90.9V405.7H92.4M92.4,401.5H90.6V404.7H90.9M92.4,407.1H91.2V408.5H92.4M91.2,407.8H90.9V409.9H92.4M90.9,408.9H90.6V411.3H92.4M90.6,410.1H90.3V412.7H92.4M90.6,403.1H89.5V411.4H90.3M89.7,394.6H88.5V407.3H89.5M92.4,414.1H91.0V415.5H92.4M91.0,414.8H90.7V416.9H92.4M92.4,421.1H91.4V422.5H92.4M92.4,419.7H91.1V421.8H91.4M92.4,418.3H90.7V420.8H91.1M90.7,419.6H90.4V423.9H92.4M90.7,415.9H89.5V421.7H90.4M88.5,400.9H87.4V418.8H89.5M92.4,425.3H91.3V426.7H92.4M92.4,428.1H90.8V429.5H92.4M91.3,426.0H88.0V428.8H90.8M88.0,427.4H87.3V430.9H92.4M92.4,432.3H90.0V433.7H92.4M90.0,433.0H89.7V435.1H92.4M92.4,437.9H91.0V439.3H92.4M91.0,438.6H90.7V440.7H92.4M92.4,436.5H90.4V439.7H90.7M92.4,442.1H90.8V443.5H92.4M92.4,447.7H91.4V449.1H92.4M92.4,446.3H91.1V448.4H91.4M92.4,451.9H91.4V453.3H92.4M92.4,450.5H91.1V452.6H91.4M91.1,447.4H90.7V451.6H91.1M92.4,444.9H90.4V449.5H90.7M90.4,447.2H90.1V454.7H92.4M92.4,456.1H90.7V457.5H92.4M90.1,450.9H89.5V456.8H90.7M90.8,442.8H89.2V453.9H89.5M90.4,438.1H88.1V448.3H89.2M89.7,434.1H86.4V443.2H88.1M92.4,458.9H90.0V460.3H92.4M90.0,459.6H89.6V461.7H92.4M86.4,438.6H85.3V460.7H89.6M92.4,468.1H90.9V469.5H92.4M90.9,468.8H90.6V470.9H92.4M92.4,472.3H90.9V473.7H92.4M90.9,473.0H90.6V475.1H92.4M90.6,469.8H90.0V474.0H90.6M92.4,476.5H90.8V477.9H92.4M90.8,477.2H90.5V479.3H92.4M92.4,480.7H90.9V482.1H92.4M90.9,481.4H90.6V483.5H92.4M92.4,484.9H91.3V486.3H92.4M91.3,485.6H91.0V487.7H92.4M91.0,486.6H90.6V489.1H92.4M90.6,482.4H89.8V487.8H90.6M90.5,478.2H89.4V485.1H89.8M89.4,481.7H89.1V490.5H92.4M92.4,493.3H91.4V494.7H92.4M91.4,494.0H91.1V496.1H92.4M92.4,491.9H90.8V495.0H91.1M92.4,497.5H91.4V498.9H92.4M91.4,498.2H91.1V500.3H92.4M91.1,499.2H90.8V501.7H92.4M90.8,493.4H90.1V500.4H90.8M89.1,486.1H88.3V496.9H90.1M90.0,471.9H87.2V491.5H88.3M92.4,504.4H91.4V505.8H92.4M92.4,503.1H91.1V505.1H91.4M92.4,508.6H91.5V510.0H92.4M92.4,511.4H91.5V512.8H92.4M91.5,509.3H91.2V512.1H91.5M91.2,510.7H90.9V514.2H92.4M92.4,507.2H90.6V512.5H90.9M91.1,504.1H90.2V509.9H90.6M92.4,517.0H91.4V518.4H92.4M91.4,517.7H91.1V519.8H92.4M92.4,515.6H90.7V518.8H91.1M92.4,521.2H90.9V522.6H92.4M90.7,517.2H90.2V521.9H90.9M90.2,507.0H89.3V519.6H90.2M89.3,513.3H88.9V524.0H92.4M92.4,526.8H91.2V528.2H92.4M92.4,525.4H90.6V527.5H91.2M92.4,529.6H91.0V531.0H92.4M91.0,530.3H90.7V532.4H92.4M90.7,531.4H90.4V533.8H92.4M90.6,526.5H89.6V532.6H90.4M88.9,518.6H87.1V529.5H89.6M87.1,524.1H86.5V535.2H92.4M92.4,538.0H90.5V539.4H92.4M92.4,536.6H87.8V538.7H90.5M87.8,537.7H86.9V540.8H92.4M92.4,546.7H91.3V548.1H92.4M92.4,549.5H91.2V551.0H92.4M91.2,550.2H90.9V552.4H92.4M92.4,553.8H91.7V555.2H92.4M91.7,554.5H91.4V556.6H92.4M91.4,555.5H91.1V558.0H92.4M92.4,559.4H91.5V560.9H92.4M91.1,556.8H90.8V560.1H91.5M92.4,563.7H91.7V565.1H92.4M92.4,566.5H91.7V567.9H92.4M91.7,564.4H91.4V567.2H91.7M92.4,562.3H91.1V565.8H91.4M90.8,558.5H90.5V564.0H91.1M90.5,561.3H90.2V569.3H92.4M92.4,570.8H91.6V572.2H92.4M91.6,571.5H91.3V573.6H92.4M91.3,572.5H91.0V575.0H92.4M92.4,577.8H91.7V579.2H92.4M92.4,576.4H91.4V578.5H91.7M91.0,573.8H90.7V577.5H91.4M92.4,580.7H91.7V582.1H92.4M91.7,581.4H91.4V583.5H92.4M92.4,584.9H91.7V586.3H92.4M92.4,587.7H91.7V589.2H92.4M91.7,585.6H91.4V588.4H91.7M91.4,582.4H91.1V587.0H91.4M92.4,590.6H91.4V592.0H92.4M91.1,584.7H90.8V591.3H91.4M90.7,575.6H90.2V588.0H90.8M90.2,565.3H89.1V581.8H90.2M90.9,551.3H88.4V573.6H89.1M92.4,596.2H91.4V597.6H92.4M92.4,594.8H91.1V596.9H91.4M92.4,593.4H90.8V595.9H91.1M90.8,594.6H90.4V599.1H92.4M88.4,562.4H88.1V596.8H90.4M92.4,600.5H91.2V601.9H92.4M92.4,604.7H91.4V606.1H92.4M92.4,609.0H91.4V610.4H92.4M92.4,607.5H91.1V609.7H91.4M91.4,605.4H90.8V608.6H91.1M92.4,613.2H91.7V614.6H92.4M91.7,613.9H91.4V616.0H92.4M91.4,615.0H91.1V617.4H92.4M92.4,611.8H90.8V616.2H91.1M90.8,607.0H90.3V614.0H90.8M92.4,603.3H90.0V610.5H90.3M91.2,601.2H89.6V606.9H90.0M88.1,579.6H87.4V604.0H89.6M92.4,618.9H89.4V620.3H92.4M89.4,619.6H87.2V621.7H92.4M92.4,628.7H91.2V630.1H92.4M92.4,627.3H90.9V629.4H91.2M90.9,628.4H90.6V631.5H92.4M92.4,634.3H91.4V635.7H92.4M92.4,632.9H91.1V635.0H91.4M91.1,634.0H90.8V637.1H92.4M92.4,638.5H91.0V639.9H92.4M90.8,635.5H90.4V639.2H91.0M90.6,629.9H89.4V637.4H90.4M89.4,633.7H88.4V641.3H92.4M92.4,642.7H90.5V644.1H92.4M92.4,646.9H91.0V648.3H92.4M91.0,647.6H90.7V649.7H92.4M92.4,645.5H90.4V648.7H90.7M90.4,647.1H90.1V651.2H92.4M90.5,643.4H89.5V649.1H90.1M92.4,652.6H90.3V654.0H92.4M90.3,653.3H90.0V655.4H92.4M89.5,646.3H88.2V654.3H90.0M88.4,637.5H86.5V650.3H88.2M92.4,658.2H90.3V659.6H92.4M92.4,656.8H89.8V658.9H90.3M89.8,657.8H89.0V661.0H92.4M92.4,663.8H90.5V665.2H92.4M92.4,662.4H90.2V664.5H90.5M92.4,668.0H91.3V669.4H92.4M91.3,668.7H90.8V670.8H92.4M92.4,666.6H90.2V669.7H90.8M90.2,668.2H89.9V672.2H92.4M89.9,670.2H89.3V673.6H92.4M90.2,663.4H88.4V671.9H89.3M89.0,659.4H87.1V667.7H88.4M92.4,680.9H90.3V682.3H92.4M92.4,679.5H90.0V681.6H90.3M92.4,683.7H90.3V685.1H92.4M90.3,684.4H90.0V686.5H92.4M90.0,680.5H88.5V685.4H90.0M92.4,687.9H91.0V689.3H92.4M88.5,683.0H87.8V688.6H91.0M87.8,685.8H86.1V690.7H92.4M92.4,692.1H89.8V693.5H92.4M92.4,696.3H90.3V697.7H92.4M90.3,697.0H89.9V699.1H92.4M92.4,694.9H89.3V698.0H89.9M92.4,700.5H89.9V701.9H92.4M89.3,696.4H88.8V701.2H89.9M89.8,692.8H87.7V698.8H88.8M92.4,704.7H89.5V706.0H92.4M92.4,703.3H89.1V705.3H89.5M92.4,707.4H89.4V708.8H92.4M89.1,704.3H88.2V708.1H89.4M87.7,695.8H86.4V706.2H88.2M92.4,710.2H91.3V711.6H92.4M92.4,713.0H91.3V714.4H92.4M91.3,710.9H91.0V713.7H91.3M92.4,715.8H91.0V717.2H92.4M91.0,712.3H90.4V716.5H91.0M92.4,718.6H91.6V720.0H92.4M92.4,722.8H91.7V724.2H92.4M91.7,723.5H91.4V725.6H92.4M92.4,721.4H91.1V724.6H91.4M91.1,723.0H90.8V727.0H92.4M91.6,719.3H90.5V725.0H90.8M90.5,722.2H90.2V728.4H92.4M90.4,714.4H89.7V725.3H90.2M92.4,732.6H91.3V734.0H92.4M92.4,731.2H91.0V733.3H91.3M92.4,729.8H90.7V732.2H91.0M89.7,719.9H88.7V731.0H90.7M92.4,735.4H91.1V736.8H92.4M92.4,739.6H91.5V741.0H92.4M92.4,738.2H91.2V740.3H91.5M92.4,742.4H91.3V743.8H92.4M91.2,739.2H90.9V743.1H91.3M92.4,745.2H91.3V746.6H92.4M90.9,741.2H90.6V745.9H91.3M91.1,736.1H90.1V743.5H90.6M92.4,748.0H91.3V749.4H92.4M92.4,750.8H91.1V752.2H92.4M91.3,748.7H90.8V751.5H91.1M92.4,753.6H91.0V755.0H92.4M91.0,754.3H90.7V756.4H92.4M90.8,750.1H89.9V755.3H90.7M90.1,739.8H89.0V752.7H89.9M88.7,725.4H87.0V746.2H89.0M92.4,757.8H90.6V759.1H92.4M90.6,758.5H90.3V760.5H92.4M87.0,735.8H86.2V759.5H90.3M92.4,763.3H90.8V764.7H92.4M92.4,766.1H91.1V767.5H92.4M91.1,766.8H90.8V768.9H92.4M90.8,764.0H90.2V767.9H90.8M92.4,761.9H89.9V766.0H90.2M92.4,771.7H90.8V773.1H92.4M92.4,770.3H90.5V772.4H90.8M89.9,764.0H89.1V771.4H90.5M86.2,747.7H85.1V767.7H89.1M92.4,774.5H90.6V775.9H92.4M90.6,775.2H85.6V777.3H92.4M92.4,781.5H91.2V782.9H92.4M91.2,782.2H87.5V784.3H92.4M92.4,780.1H86.7V783.3H87.5M92.4,778.7H86.0V781.7H86.7M92.4,790.7H89.8V792.1H92.4M92.4,793.5H90.8V795.0H92.4M92.4,799.2H91.2V800.6H92.4M92.4,797.8H90.9V799.9H91.2M92.4,796.4H90.6V798.8H90.9M90.6,797.6H90.3V802.0H92.4M90.8,794.2H89.9V799.8H90.3M92.4,803.5H90.7V804.9H92.4M92.4,809.1H91.3V810.5H92.4M92.4,807.7H91.0V809.8H91.3M92.4,806.3H90.7V808.8H91.0M90.7,807.5H90.2V811.9H92.4M90.7,804.2H89.7V809.7H90.2M89.9,797.0H88.4V806.9H89.7M89.8,791.4H86.8V802.0H88.4M92.4,813.4H91.0V814.8H92.4M91.0,814.1H89.3V816.2H92.4M86.8,796.7H86.1V815.1H89.3M92.4,820.4H90.9V821.9H92.4M90.9,821.1H90.6V823.3H92.4M90.6,822.2H90.3V824.7H92.4M92.4,819.0H90.0V823.5H90.3M92.4,826.1H91.1V827.5H92.4M90.0,821.2H89.5V826.8H91.1M89.5,824.0H89.2V828.9H92.4M92.4,817.6H88.9V826.5H89.2M92.4,830.4H91.1V831.8H92.4M92.4,833.2H90.9V834.6H92.4M92.4,837.4H91.4V838.8H92.4M92.4,836.0H91.1V838.1H91.4M92.4,840.3H91.1V841.7H92.4M91.1,837.1H90.6V841.0H91.1M90.9,833.9H90.1V839.0H90.6M91.1,831.1H89.3V836.5H90.1M88.9,822.0H87.7V833.8H89.3M92.4,843.1H90.8V844.5H92.4M92.4,845.9H91.3V847.3H92.4M90.8,843.8H89.7V846.6H91.3M87.7,827.9H86.3V845.2H89.7M92.4,851.6H90.4V853.0H92.4M92.4,850.2H88.6V852.3H90.4M92.4,848.8H87.9V851.2H88.6M92.4,854.4H88.9V855.8H92.4M87.9,850.0H87.2V855.1H88.9M92.4,858.7H90.0V860.1H92.4M92.4,857.3H89.2V859.4H90.0M92.4,862.9H90.1V864.3H92.4M92.4,861.5H89.7V863.6H90.1M92.4,868.6H91.1V870.0H92.4M91.1,869.3H90.8V871.4H92.4M92.4,867.2H90.4V870.4H90.8M92.4,865.7H89.8V868.8H90.4M89.7,862.6H88.6V867.3H89.8M92.4,874.2H90.5V875.7H92.4M92.4,872.8H90.2V875.0H90.5M88.6,864.9H87.9V873.9H90.2M92.4,877.1H90.6V878.5H92.4M87.9,869.4H87.1V877.8H90.6M89.2,858.3H86.1V873.6H87.1" stroke="#0a0a0a" stroke-width="0.75" fill="none"/>
</g>
</svg>
</body></html>
